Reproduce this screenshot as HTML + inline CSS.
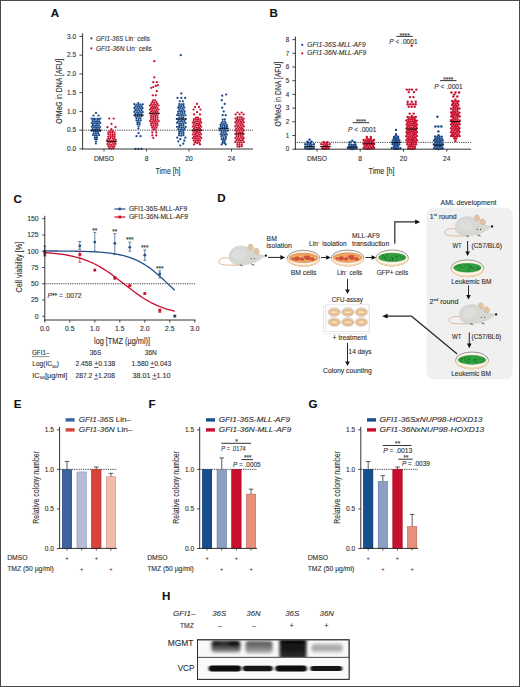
<!DOCTYPE html>
<html><head><meta charset="utf-8"><style>
html,body{margin:0;padding:0;background:#fff;}
body{width:520px;height:687px;overflow:hidden;}
svg{display:block;font-family:"Liberation Sans", sans-serif;}
</style></head><body>
<svg width="520" height="687" viewBox="0 0 520 687">
<rect x="0" y="0" width="520" height="687" fill="#fff"/>
<text x="50.80" y="17.30" font-size="11.6" font-weight="bold" fill="#111" stroke="#111" stroke-width="0.1" >A</text>
<line x1="82.60" y1="130.15" x2="253.00" y2="130.15" stroke="#1a1a1a" stroke-width="1.0" stroke-dasharray="0.8 1.0" />
<g fill="#18488a"><circle cx="95.9" cy="143.5" r="1.12"/><circle cx="96.0" cy="141.5" r="1.12"/><circle cx="95.0" cy="139.2" r="1.12"/><circle cx="97.0" cy="139.2" r="1.12"/><circle cx="94.9" cy="137.5" r="1.12"/><circle cx="96.9" cy="137.3" r="1.12"/><circle cx="93.0" cy="135.0" r="1.12"/><circle cx="94.9" cy="135.6" r="1.12"/><circle cx="96.9" cy="135.5" r="1.12"/><circle cx="99.1" cy="134.9" r="1.12"/><circle cx="93.8" cy="133.3" r="1.12"/><circle cx="95.9" cy="133.7" r="1.12"/><circle cx="98.1" cy="133.2" r="1.12"/><circle cx="91.7" cy="130.7" r="1.12"/><circle cx="93.8" cy="131.4" r="1.12"/><circle cx="96.0" cy="131.7" r="1.12"/><circle cx="98.1" cy="131.3" r="1.12"/><circle cx="100.1" cy="130.9" r="1.12"/><circle cx="92.8" cy="129.1" r="1.12"/><circle cx="95.0" cy="129.7" r="1.12"/><circle cx="97.1" cy="129.5" r="1.12"/><circle cx="99.3" cy="129.0" r="1.12"/><circle cx="91.9" cy="126.8" r="1.12"/><circle cx="93.9" cy="127.3" r="1.12"/><circle cx="96.1" cy="127.9" r="1.12"/><circle cx="98.1" cy="127.5" r="1.12"/><circle cx="100.1" cy="127.0" r="1.12"/><circle cx="92.9" cy="125.2" r="1.12"/><circle cx="95.1" cy="125.8" r="1.12"/><circle cx="97.0" cy="125.7" r="1.12"/><circle cx="99.0" cy="125.3" r="1.12"/><circle cx="91.9" cy="123.1" r="1.12"/><circle cx="93.8" cy="123.5" r="1.12"/><circle cx="96.1" cy="123.8" r="1.12"/><circle cx="98.1" cy="123.4" r="1.12"/><circle cx="100.1" cy="122.9" r="1.12"/><circle cx="92.7" cy="121.2" r="1.12"/><circle cx="94.9" cy="121.9" r="1.12"/><circle cx="96.9" cy="121.8" r="1.12"/><circle cx="99.2" cy="121.4" r="1.12"/><circle cx="93.0" cy="119.3" r="1.12"/><circle cx="94.9" cy="119.8" r="1.12"/><circle cx="97.2" cy="120.0" r="1.12"/><circle cx="99.0" cy="119.3" r="1.12"/><circle cx="91.6" cy="118.5" r="1.12"/><circle cx="94.5" cy="118.5" r="1.12"/><circle cx="97.5" cy="118.5" r="1.12"/><circle cx="100.4" cy="118.5" r="1.12"/><circle cx="93.5" cy="115.5" r="1.12"/><circle cx="98.5" cy="115.5" r="1.12"/><circle cx="96.0" cy="112.9" r="1.12"/></g>
<line x1="90.50" y1="130.15" x2="101.50" y2="130.15" stroke="#111" stroke-width="0.9" />
<g fill="#c8102e"><circle cx="109.3" cy="148.2" r="1.12"/><circle cx="111.5" cy="148.6" r="1.12"/><circle cx="113.5" cy="148.2" r="1.12"/><circle cx="108.4" cy="146.2" r="1.12"/><circle cx="110.5" cy="146.5" r="1.12"/><circle cx="112.6" cy="146.6" r="1.12"/><circle cx="114.5" cy="146.2" r="1.12"/><circle cx="107.4" cy="144.0" r="1.12"/><circle cx="109.4" cy="144.3" r="1.12"/><circle cx="111.4" cy="144.8" r="1.12"/><circle cx="113.5" cy="144.2" r="1.12"/><circle cx="115.6" cy="143.8" r="1.12"/><circle cx="108.2" cy="142.0" r="1.12"/><circle cx="110.3" cy="142.5" r="1.12"/><circle cx="112.5" cy="142.5" r="1.12"/><circle cx="114.8" cy="142.2" r="1.12"/><circle cx="107.2" cy="140.0" r="1.12"/><circle cx="109.4" cy="140.3" r="1.12"/><circle cx="111.6" cy="141.0" r="1.12"/><circle cx="113.6" cy="140.4" r="1.12"/><circle cx="115.6" cy="139.9" r="1.12"/><circle cx="108.3" cy="138.4" r="1.12"/><circle cx="110.3" cy="138.6" r="1.12"/><circle cx="112.7" cy="138.7" r="1.12"/><circle cx="114.5" cy="138.3" r="1.12"/><circle cx="108.4" cy="136.5" r="1.12"/><circle cx="110.6" cy="136.8" r="1.12"/><circle cx="112.5" cy="136.7" r="1.12"/><circle cx="114.6" cy="136.4" r="1.12"/><circle cx="108.4" cy="134.3" r="1.12"/><circle cx="110.4" cy="134.9" r="1.12"/><circle cx="112.7" cy="134.9" r="1.12"/><circle cx="114.7" cy="134.5" r="1.12"/><circle cx="108.3" cy="132.4" r="1.12"/><circle cx="110.4" cy="132.7" r="1.12"/><circle cx="112.4" cy="132.8" r="1.12"/><circle cx="114.6" cy="132.5" r="1.12"/><circle cx="110.4" cy="131.1" r="1.12"/><circle cx="112.7" cy="131.1" r="1.12"/><circle cx="111.4" cy="129.1" r="1.12"/><circle cx="107.5" cy="127.2" r="1.12"/><circle cx="115.5" cy="127.2" r="1.12"/><circle cx="111.5" cy="123.8" r="1.12"/><circle cx="109.3" cy="118.5" r="1.12"/><circle cx="113.7" cy="118.5" r="1.12"/></g>
<line x1="106.00" y1="141.40" x2="117.00" y2="141.40" stroke="#111" stroke-width="0.9" />
<g fill="#18488a"><circle cx="138.4" cy="128.5" r="1.12"/><circle cx="138.6" cy="126.5" r="1.12"/><circle cx="137.5" cy="124.2" r="1.12"/><circle cx="139.6" cy="124.4" r="1.12"/><circle cx="137.5" cy="122.4" r="1.12"/><circle cx="139.5" cy="122.5" r="1.12"/><circle cx="136.5" cy="120.3" r="1.12"/><circle cx="138.5" cy="120.6" r="1.12"/><circle cx="140.7" cy="120.3" r="1.12"/><circle cx="136.3" cy="118.1" r="1.12"/><circle cx="138.6" cy="118.8" r="1.12"/><circle cx="140.5" cy="118.3" r="1.12"/><circle cx="135.4" cy="116.0" r="1.12"/><circle cx="137.5" cy="116.4" r="1.12"/><circle cx="139.4" cy="116.7" r="1.12"/><circle cx="141.7" cy="116.1" r="1.12"/><circle cx="135.3" cy="114.2" r="1.12"/><circle cx="137.5" cy="114.5" r="1.12"/><circle cx="139.5" cy="114.5" r="1.12"/><circle cx="141.6" cy="114.2" r="1.12"/><circle cx="134.3" cy="111.8" r="1.12"/><circle cx="136.5" cy="112.4" r="1.12"/><circle cx="138.5" cy="112.9" r="1.12"/><circle cx="140.7" cy="112.4" r="1.12"/><circle cx="142.8" cy="112.0" r="1.12"/><circle cx="135.4" cy="110.1" r="1.12"/><circle cx="137.4" cy="110.6" r="1.12"/><circle cx="139.4" cy="110.8" r="1.12"/><circle cx="141.6" cy="110.2" r="1.12"/><circle cx="134.3" cy="108.0" r="1.12"/><circle cx="136.4" cy="108.5" r="1.12"/><circle cx="138.6" cy="108.8" r="1.12"/><circle cx="140.6" cy="108.4" r="1.12"/><circle cx="142.6" cy="108.1" r="1.12"/><circle cx="135.4" cy="106.4" r="1.12"/><circle cx="137.6" cy="106.8" r="1.12"/><circle cx="139.6" cy="106.8" r="1.12"/><circle cx="141.7" cy="106.4" r="1.12"/><circle cx="134.3" cy="104.1" r="1.12"/><circle cx="136.5" cy="104.7" r="1.12"/><circle cx="138.6" cy="105.2" r="1.12"/><circle cx="140.5" cy="104.6" r="1.12"/><circle cx="142.8" cy="104.3" r="1.12"/><circle cx="138.4" cy="103.1" r="1.12"/><circle cx="138.5" cy="133.2" r="1.12"/><circle cx="136.5" cy="136.2" r="1.12"/><circle cx="140.5" cy="136.2" r="1.12"/><circle cx="135.5" cy="148.9" r="1.12"/><circle cx="138.5" cy="148.9" r="1.12"/><circle cx="141.5" cy="148.9" r="1.12"/></g>
<line x1="133.00" y1="115.15" x2="144.00" y2="115.15" stroke="#111" stroke-width="0.9" />
<g fill="#c8102e"><circle cx="153.2" cy="129.6" r="1.12"/><circle cx="155.4" cy="129.8" r="1.12"/><circle cx="152.1" cy="127.6" r="1.12"/><circle cx="154.3" cy="127.9" r="1.12"/><circle cx="156.5" cy="127.7" r="1.12"/><circle cx="151.3" cy="125.3" r="1.12"/><circle cx="153.2" cy="126.0" r="1.12"/><circle cx="155.4" cy="125.7" r="1.12"/><circle cx="157.4" cy="125.4" r="1.12"/><circle cx="151.1" cy="123.4" r="1.12"/><circle cx="153.3" cy="123.7" r="1.12"/><circle cx="155.4" cy="123.9" r="1.12"/><circle cx="157.3" cy="123.4" r="1.12"/><circle cx="150.1" cy="121.1" r="1.12"/><circle cx="152.3" cy="121.8" r="1.12"/><circle cx="154.4" cy="122.0" r="1.12"/><circle cx="156.3" cy="121.6" r="1.12"/><circle cx="158.6" cy="121.2" r="1.12"/><circle cx="151.1" cy="119.6" r="1.12"/><circle cx="153.3" cy="119.9" r="1.12"/><circle cx="155.2" cy="120.1" r="1.12"/><circle cx="157.5" cy="119.6" r="1.12"/><circle cx="151.0" cy="117.6" r="1.12"/><circle cx="153.2" cy="117.9" r="1.12"/><circle cx="155.5" cy="118.1" r="1.12"/><circle cx="157.5" cy="117.5" r="1.12"/><circle cx="151.0" cy="115.7" r="1.12"/><circle cx="153.2" cy="116.0" r="1.12"/><circle cx="155.4" cy="116.2" r="1.12"/><circle cx="157.4" cy="115.5" r="1.12"/><circle cx="150.0" cy="113.3" r="1.12"/><circle cx="152.1" cy="113.8" r="1.12"/><circle cx="154.2" cy="114.3" r="1.12"/><circle cx="156.3" cy="114.0" r="1.12"/><circle cx="158.4" cy="113.5" r="1.12"/><circle cx="151.1" cy="111.6" r="1.12"/><circle cx="153.2" cy="112.0" r="1.12"/><circle cx="155.4" cy="112.2" r="1.12"/><circle cx="157.4" cy="111.7" r="1.12"/><circle cx="150.0" cy="109.6" r="1.12"/><circle cx="152.2" cy="110.0" r="1.12"/><circle cx="154.4" cy="110.4" r="1.12"/><circle cx="156.4" cy="110.1" r="1.12"/><circle cx="158.6" cy="109.5" r="1.12"/><circle cx="151.2" cy="107.9" r="1.12"/><circle cx="153.2" cy="108.2" r="1.12"/><circle cx="155.2" cy="108.2" r="1.12"/><circle cx="157.3" cy="107.9" r="1.12"/><circle cx="150.0" cy="105.5" r="1.12"/><circle cx="152.3" cy="106.2" r="1.12"/><circle cx="154.4" cy="106.5" r="1.12"/><circle cx="156.3" cy="106.0" r="1.12"/><circle cx="158.5" cy="105.5" r="1.12"/><circle cx="151.1" cy="104.1" r="1.12"/><circle cx="153.4" cy="104.4" r="1.12"/><circle cx="155.3" cy="104.5" r="1.12"/><circle cx="157.4" cy="103.9" r="1.12"/><circle cx="152.2" cy="102.2" r="1.12"/><circle cx="154.3" cy="102.6" r="1.12"/><circle cx="156.4" cy="102.1" r="1.12"/><circle cx="153.1" cy="100.4" r="1.12"/><circle cx="155.2" cy="100.3" r="1.12"/><circle cx="153.3" cy="138.0" r="1.12"/><circle cx="152.3" cy="135.4" r="1.12"/><circle cx="156.3" cy="135.4" r="1.12"/><circle cx="152.3" cy="132.4" r="1.12"/><circle cx="156.3" cy="132.4" r="1.12"/><circle cx="152.8" cy="95.3" r="1.12"/><circle cx="155.8" cy="95.3" r="1.12"/><circle cx="156.8" cy="91.2" r="1.12"/><circle cx="151.3" cy="87.8" r="1.12"/><circle cx="153.3" cy="87.0" r="1.12"/><circle cx="155.8" cy="85.9" r="1.12"/><circle cx="157.8" cy="85.2" r="1.12"/><circle cx="153.3" cy="82.2" r="1.12"/><circle cx="156.8" cy="82.2" r="1.12"/><circle cx="154.3" cy="77.3" r="1.12"/><circle cx="154.3" cy="61.2" r="1.12"/></g>
<line x1="148.80" y1="113.28" x2="159.80" y2="113.28" stroke="#111" stroke-width="0.9" />
<g fill="#18488a"><circle cx="179.1" cy="135.2" r="1.12"/><circle cx="181.3" cy="135.7" r="1.12"/><circle cx="183.4" cy="135.2" r="1.12"/><circle cx="179.2" cy="133.1" r="1.12"/><circle cx="181.4" cy="133.5" r="1.12"/><circle cx="183.5" cy="133.2" r="1.12"/><circle cx="179.3" cy="131.3" r="1.12"/><circle cx="181.3" cy="131.7" r="1.12"/><circle cx="183.5" cy="131.1" r="1.12"/><circle cx="178.2" cy="129.2" r="1.12"/><circle cx="180.3" cy="129.6" r="1.12"/><circle cx="182.4" cy="129.6" r="1.12"/><circle cx="184.5" cy="129.1" r="1.12"/><circle cx="177.0" cy="126.8" r="1.12"/><circle cx="179.2" cy="127.2" r="1.12"/><circle cx="181.4" cy="127.8" r="1.12"/><circle cx="183.4" cy="127.4" r="1.12"/><circle cx="185.6" cy="126.9" r="1.12"/><circle cx="179.3" cy="125.4" r="1.12"/><circle cx="181.3" cy="125.8" r="1.12"/><circle cx="183.4" cy="125.2" r="1.12"/><circle cx="177.0" cy="122.8" r="1.12"/><circle cx="179.1" cy="123.5" r="1.12"/><circle cx="181.2" cy="123.9" r="1.12"/><circle cx="183.5" cy="123.4" r="1.12"/><circle cx="185.5" cy="123.0" r="1.12"/><circle cx="178.2" cy="121.3" r="1.12"/><circle cx="180.3" cy="121.6" r="1.12"/><circle cx="182.2" cy="121.6" r="1.12"/><circle cx="184.5" cy="121.2" r="1.12"/><circle cx="177.0" cy="118.9" r="1.12"/><circle cx="179.1" cy="119.6" r="1.12"/><circle cx="181.4" cy="120.0" r="1.12"/><circle cx="183.3" cy="119.5" r="1.12"/><circle cx="185.5" cy="119.1" r="1.12"/><circle cx="179.3" cy="117.5" r="1.12"/><circle cx="181.4" cy="118.2" r="1.12"/><circle cx="183.3" cy="117.6" r="1.12"/><circle cx="177.2" cy="115.2" r="1.12"/><circle cx="179.1" cy="115.5" r="1.12"/><circle cx="181.4" cy="116.0" r="1.12"/><circle cx="183.4" cy="115.5" r="1.12"/><circle cx="185.5" cy="115.3" r="1.12"/><circle cx="178.2" cy="113.5" r="1.12"/><circle cx="180.4" cy="114.0" r="1.12"/><circle cx="182.3" cy="114.0" r="1.12"/><circle cx="184.4" cy="113.3" r="1.12"/><circle cx="178.1" cy="111.5" r="1.12"/><circle cx="180.2" cy="111.8" r="1.12"/><circle cx="182.3" cy="111.9" r="1.12"/><circle cx="184.6" cy="111.4" r="1.12"/><circle cx="179.3" cy="109.7" r="1.12"/><circle cx="181.4" cy="110.3" r="1.12"/><circle cx="183.5" cy="109.7" r="1.12"/><circle cx="178.1" cy="107.7" r="1.12"/><circle cx="180.3" cy="108.0" r="1.12"/><circle cx="182.3" cy="108.0" r="1.12"/><circle cx="184.3" cy="107.5" r="1.12"/><circle cx="179.1" cy="106.0" r="1.12"/><circle cx="181.2" cy="106.3" r="1.12"/><circle cx="183.4" cy="105.8" r="1.12"/><circle cx="179.3" cy="104.0" r="1.12"/><circle cx="181.4" cy="104.4" r="1.12"/><circle cx="183.5" cy="104.1" r="1.12"/><circle cx="180.3" cy="145.5" r="1.12"/><circle cx="183.3" cy="143.7" r="1.12"/><circle cx="178.3" cy="141.4" r="1.12"/><circle cx="184.3" cy="140.7" r="1.12"/><circle cx="180.3" cy="139.2" r="1.12"/><circle cx="177.3" cy="137.7" r="1.12"/><circle cx="185.3" cy="137.7" r="1.12"/><circle cx="179.8" cy="101.3" r="1.12"/><circle cx="182.8" cy="101.3" r="1.12"/><circle cx="177.5" cy="97.9" r="1.12"/><circle cx="181.3" cy="97.9" r="1.12"/><circle cx="185.1" cy="97.9" r="1.12"/><circle cx="181.3" cy="93.4" r="1.12"/><circle cx="180.8" cy="55.2" r="1.12"/></g>
<line x1="175.80" y1="118.90" x2="186.80" y2="118.90" stroke="#111" stroke-width="0.9" />
<g fill="#c8102e"><circle cx="195.0" cy="142.5" r="1.12"/><circle cx="197.1" cy="143.1" r="1.12"/><circle cx="199.2" cy="142.7" r="1.12"/><circle cx="193.7" cy="140.6" r="1.12"/><circle cx="195.8" cy="140.9" r="1.12"/><circle cx="198.0" cy="140.8" r="1.12"/><circle cx="200.2" cy="140.6" r="1.12"/><circle cx="192.8" cy="138.2" r="1.12"/><circle cx="194.9" cy="138.7" r="1.12"/><circle cx="196.9" cy="139.1" r="1.12"/><circle cx="199.0" cy="138.8" r="1.12"/><circle cx="201.2" cy="138.2" r="1.12"/><circle cx="194.0" cy="136.5" r="1.12"/><circle cx="195.8" cy="136.9" r="1.12"/><circle cx="197.9" cy="137.0" r="1.12"/><circle cx="200.0" cy="136.5" r="1.12"/><circle cx="192.8" cy="134.5" r="1.12"/><circle cx="195.0" cy="134.8" r="1.12"/><circle cx="197.0" cy="135.3" r="1.12"/><circle cx="199.1" cy="134.8" r="1.12"/><circle cx="201.1" cy="134.3" r="1.12"/><circle cx="193.7" cy="132.7" r="1.12"/><circle cx="196.0" cy="133.2" r="1.12"/><circle cx="198.0" cy="133.0" r="1.12"/><circle cx="200.1" cy="132.6" r="1.12"/><circle cx="192.9" cy="130.6" r="1.12"/><circle cx="195.0" cy="130.8" r="1.12"/><circle cx="196.9" cy="131.4" r="1.12"/><circle cx="199.2" cy="130.9" r="1.12"/><circle cx="201.2" cy="130.3" r="1.12"/><circle cx="194.0" cy="128.8" r="1.12"/><circle cx="196.1" cy="129.3" r="1.12"/><circle cx="198.0" cy="129.1" r="1.12"/><circle cx="200.0" cy="128.8" r="1.12"/><circle cx="192.9" cy="126.6" r="1.12"/><circle cx="194.9" cy="127.1" r="1.12"/><circle cx="197.0" cy="127.5" r="1.12"/><circle cx="199.0" cy="127.1" r="1.12"/><circle cx="201.1" cy="126.7" r="1.12"/><circle cx="193.8" cy="124.7" r="1.12"/><circle cx="195.9" cy="125.3" r="1.12"/><circle cx="198.1" cy="125.2" r="1.12"/><circle cx="200.0" cy="124.9" r="1.12"/><circle cx="192.8" cy="122.6" r="1.12"/><circle cx="194.9" cy="123.0" r="1.12"/><circle cx="196.9" cy="123.6" r="1.12"/><circle cx="199.2" cy="123.2" r="1.12"/><circle cx="201.3" cy="122.7" r="1.12"/><circle cx="193.8" cy="121.1" r="1.12"/><circle cx="196.0" cy="121.3" r="1.12"/><circle cx="197.9" cy="121.4" r="1.12"/><circle cx="200.2" cy="120.9" r="1.12"/><circle cx="193.9" cy="119.1" r="1.12"/><circle cx="195.9" cy="119.3" r="1.12"/><circle cx="198.0" cy="119.4" r="1.12"/><circle cx="200.2" cy="118.9" r="1.12"/><circle cx="196.0" cy="117.5" r="1.12"/><circle cx="198.0" cy="117.6" r="1.12"/><circle cx="194.0" cy="144.4" r="1.12"/><circle cx="200.0" cy="144.4" r="1.12"/><circle cx="194.0" cy="114.4" r="1.12"/><circle cx="200.0" cy="114.4" r="1.12"/><circle cx="197.0" cy="112.2" r="1.12"/><circle cx="193.5" cy="109.5" r="1.12"/><circle cx="200.5" cy="109.5" r="1.12"/><circle cx="195.0" cy="106.9" r="1.12"/><circle cx="199.0" cy="106.9" r="1.12"/><circle cx="197.0" cy="103.9" r="1.12"/></g>
<line x1="191.50" y1="130.15" x2="202.50" y2="130.15" stroke="#111" stroke-width="0.9" />
<g fill="#18488a"><circle cx="222.7" cy="142.8" r="1.12"/><circle cx="224.7" cy="142.9" r="1.12"/><circle cx="222.8" cy="140.9" r="1.12"/><circle cx="224.7" cy="140.8" r="1.12"/><circle cx="221.6" cy="138.9" r="1.12"/><circle cx="223.6" cy="139.1" r="1.12"/><circle cx="225.7" cy="138.9" r="1.12"/><circle cx="221.5" cy="136.6" r="1.12"/><circle cx="223.7" cy="137.3" r="1.12"/><circle cx="225.9" cy="136.8" r="1.12"/><circle cx="220.7" cy="134.5" r="1.12"/><circle cx="222.6" cy="135.2" r="1.12"/><circle cx="224.8" cy="134.9" r="1.12"/><circle cx="226.9" cy="134.6" r="1.12"/><circle cx="221.5" cy="132.8" r="1.12"/><circle cx="223.6" cy="133.3" r="1.12"/><circle cx="225.8" cy="133.0" r="1.12"/><circle cx="219.6" cy="130.4" r="1.12"/><circle cx="221.6" cy="131.0" r="1.12"/><circle cx="223.8" cy="131.4" r="1.12"/><circle cx="225.7" cy="130.9" r="1.12"/><circle cx="227.9" cy="130.6" r="1.12"/><circle cx="220.5" cy="128.9" r="1.12"/><circle cx="222.5" cy="129.2" r="1.12"/><circle cx="224.8" cy="129.3" r="1.12"/><circle cx="226.7" cy="128.6" r="1.12"/><circle cx="220.7" cy="126.7" r="1.12"/><circle cx="222.7" cy="127.4" r="1.12"/><circle cx="224.7" cy="127.2" r="1.12"/><circle cx="227.0" cy="126.8" r="1.12"/><circle cx="220.6" cy="124.8" r="1.12"/><circle cx="222.6" cy="125.2" r="1.12"/><circle cx="224.8" cy="125.4" r="1.12"/><circle cx="226.9" cy="125.0" r="1.12"/><circle cx="221.5" cy="123.1" r="1.12"/><circle cx="223.8" cy="123.7" r="1.12"/><circle cx="225.8" cy="123.1" r="1.12"/><circle cx="222.6" cy="121.5" r="1.12"/><circle cx="224.7" cy="121.5" r="1.12"/><circle cx="222.7" cy="119.5" r="1.12"/><circle cx="224.8" cy="119.4" r="1.12"/><circle cx="221.7" cy="144.4" r="1.12"/><circle cx="225.7" cy="144.4" r="1.12"/><circle cx="222.7" cy="115.2" r="1.12"/><circle cx="225.7" cy="115.2" r="1.12"/><circle cx="223.7" cy="111.4" r="1.12"/><circle cx="222.2" cy="107.7" r="1.12"/><circle cx="224.7" cy="103.9" r="1.12"/><circle cx="221.7" cy="100.2" r="1.12"/><circle cx="222.2" cy="95.7" r="1.12"/><circle cx="226.2" cy="94.5" r="1.12"/></g>
<line x1="218.20" y1="128.28" x2="229.20" y2="128.28" stroke="#111" stroke-width="0.9" />
<g fill="#c8102e"><circle cx="237.5" cy="146.5" r="1.12"/><circle cx="239.5" cy="146.7" r="1.12"/><circle cx="241.8" cy="146.3" r="1.12"/><circle cx="237.4" cy="144.4" r="1.12"/><circle cx="239.5" cy="145.0" r="1.12"/><circle cx="241.8" cy="144.6" r="1.12"/><circle cx="235.3" cy="141.9" r="1.12"/><circle cx="237.5" cy="142.5" r="1.12"/><circle cx="239.6" cy="142.8" r="1.12"/><circle cx="241.7" cy="142.5" r="1.12"/><circle cx="243.9" cy="142.1" r="1.12"/><circle cx="236.5" cy="140.2" r="1.12"/><circle cx="238.7" cy="140.7" r="1.12"/><circle cx="240.7" cy="140.7" r="1.12"/><circle cx="242.8" cy="140.2" r="1.12"/><circle cx="235.3" cy="138.0" r="1.12"/><circle cx="237.6" cy="138.6" r="1.12"/><circle cx="239.5" cy="139.0" r="1.12"/><circle cx="241.8" cy="138.6" r="1.12"/><circle cx="243.7" cy="138.2" r="1.12"/><circle cx="236.6" cy="136.3" r="1.12"/><circle cx="238.5" cy="136.9" r="1.12"/><circle cx="240.8" cy="137.0" r="1.12"/><circle cx="242.6" cy="136.3" r="1.12"/><circle cx="236.4" cy="134.6" r="1.12"/><circle cx="238.6" cy="135.0" r="1.12"/><circle cx="240.6" cy="135.0" r="1.12"/><circle cx="242.7" cy="134.4" r="1.12"/><circle cx="236.6" cy="132.4" r="1.12"/><circle cx="238.6" cy="133.0" r="1.12"/><circle cx="240.6" cy="132.9" r="1.12"/><circle cx="242.6" cy="132.4" r="1.12"/><circle cx="235.4" cy="130.4" r="1.12"/><circle cx="237.4" cy="130.6" r="1.12"/><circle cx="239.5" cy="131.3" r="1.12"/><circle cx="241.6" cy="130.7" r="1.12"/><circle cx="243.7" cy="130.4" r="1.12"/><circle cx="236.3" cy="128.5" r="1.12"/><circle cx="238.5" cy="129.1" r="1.12"/><circle cx="240.7" cy="128.9" r="1.12"/><circle cx="242.6" cy="128.7" r="1.12"/><circle cx="235.3" cy="126.4" r="1.12"/><circle cx="237.6" cy="126.8" r="1.12"/><circle cx="239.6" cy="127.3" r="1.12"/><circle cx="241.7" cy="127.0" r="1.12"/><circle cx="243.9" cy="126.4" r="1.12"/><circle cx="236.5" cy="124.6" r="1.12"/><circle cx="238.4" cy="125.3" r="1.12"/><circle cx="240.6" cy="125.2" r="1.12"/><circle cx="242.7" cy="124.8" r="1.12"/><circle cx="235.3" cy="122.4" r="1.12"/><circle cx="237.5" cy="123.0" r="1.12"/><circle cx="239.7" cy="123.3" r="1.12"/><circle cx="241.7" cy="122.9" r="1.12"/><circle cx="243.8" cy="122.4" r="1.12"/><circle cx="236.5" cy="120.9" r="1.12"/><circle cx="238.4" cy="121.2" r="1.12"/><circle cx="240.7" cy="121.4" r="1.12"/><circle cx="242.7" cy="120.7" r="1.12"/><circle cx="235.5" cy="118.6" r="1.12"/><circle cx="237.4" cy="119.2" r="1.12"/><circle cx="239.6" cy="119.6" r="1.12"/><circle cx="241.7" cy="119.2" r="1.12"/><circle cx="243.7" cy="118.7" r="1.12"/><circle cx="237.5" cy="117.2" r="1.12"/><circle cx="239.7" cy="117.5" r="1.12"/><circle cx="241.6" cy="117.1" r="1.12"/><circle cx="235.6" cy="114.4" r="1.12"/><circle cx="239.6" cy="114.4" r="1.12"/><circle cx="243.6" cy="114.4" r="1.12"/><circle cx="237.6" cy="112.5" r="1.12"/><circle cx="241.6" cy="112.5" r="1.12"/></g>
<line x1="234.10" y1="133.90" x2="245.10" y2="133.90" stroke="#111" stroke-width="0.9" />
<line x1="82.60" y1="33.40" x2="82.60" y2="149.40" stroke="#1e1e1e" stroke-width="0.9" />
<line x1="82.15" y1="149.00" x2="253.00" y2="149.00" stroke="#1e1e1e" stroke-width="0.9" />
<line x1="79.40" y1="148.90" x2="82.60" y2="148.90" stroke="#1e1e1e" stroke-width="0.8" />
<text x="76.10" y="151.10" font-size="6.7" text-anchor="end" fill="#2e2e2e" stroke="#2e2e2e" stroke-width="0.1" textLength="9.10" lengthAdjust="spacingAndGlyphs" >0.0</text>
<line x1="79.40" y1="130.15" x2="82.60" y2="130.15" stroke="#1e1e1e" stroke-width="0.8" />
<text x="76.10" y="132.35" font-size="6.7" text-anchor="end" fill="#2e2e2e" stroke="#2e2e2e" stroke-width="0.1" textLength="9.10" lengthAdjust="spacingAndGlyphs" >0.5</text>
<line x1="79.40" y1="111.40" x2="82.60" y2="111.40" stroke="#1e1e1e" stroke-width="0.8" />
<text x="76.10" y="113.60" font-size="6.7" text-anchor="end" fill="#2e2e2e" stroke="#2e2e2e" stroke-width="0.1" textLength="9.10" lengthAdjust="spacingAndGlyphs" >1.0</text>
<line x1="79.40" y1="92.65" x2="82.60" y2="92.65" stroke="#1e1e1e" stroke-width="0.8" />
<text x="76.10" y="94.85" font-size="6.7" text-anchor="end" fill="#2e2e2e" stroke="#2e2e2e" stroke-width="0.1" textLength="9.10" lengthAdjust="spacingAndGlyphs" >1.5</text>
<line x1="79.40" y1="73.90" x2="82.60" y2="73.90" stroke="#1e1e1e" stroke-width="0.8" />
<text x="76.10" y="76.10" font-size="6.7" text-anchor="end" fill="#2e2e2e" stroke="#2e2e2e" stroke-width="0.1" textLength="9.10" lengthAdjust="spacingAndGlyphs" >2.0</text>
<line x1="79.40" y1="55.15" x2="82.60" y2="55.15" stroke="#1e1e1e" stroke-width="0.8" />
<text x="76.10" y="57.35" font-size="6.7" text-anchor="end" fill="#2e2e2e" stroke="#2e2e2e" stroke-width="0.1" textLength="9.10" lengthAdjust="spacingAndGlyphs" >2.5</text>
<line x1="79.40" y1="36.40" x2="82.60" y2="36.40" stroke="#1e1e1e" stroke-width="0.8" />
<text x="76.10" y="38.60" font-size="6.7" text-anchor="end" fill="#2e2e2e" stroke="#2e2e2e" stroke-width="0.1" textLength="9.10" lengthAdjust="spacingAndGlyphs" >3.0</text>
<line x1="104.00" y1="149.00" x2="104.00" y2="151.50" stroke="#1e1e1e" stroke-width="0.8" />
<text x="104.00" y="161.40" font-size="6.7" text-anchor="middle" fill="#2e2e2e" stroke="#2e2e2e" stroke-width="0.1" >DMSO</text>
<line x1="146.50" y1="149.00" x2="146.50" y2="151.50" stroke="#1e1e1e" stroke-width="0.8" />
<text x="146.50" y="161.40" font-size="6.7" text-anchor="middle" fill="#2e2e2e" stroke="#2e2e2e" stroke-width="0.1" >8</text>
<line x1="189.00" y1="149.00" x2="189.00" y2="151.50" stroke="#1e1e1e" stroke-width="0.8" />
<text x="189.00" y="161.40" font-size="6.7" text-anchor="middle" fill="#2e2e2e" stroke="#2e2e2e" stroke-width="0.1" >20</text>
<line x1="231.50" y1="149.00" x2="231.50" y2="151.50" stroke="#1e1e1e" stroke-width="0.8" />
<text x="231.50" y="161.40" font-size="6.7" text-anchor="middle" fill="#2e2e2e" stroke="#2e2e2e" stroke-width="0.1" >24</text>
<text x="168.00" y="174.20" font-size="8.4" text-anchor="middle" fill="#2e2e2e" stroke="#2e2e2e" stroke-width="0.1" textLength="25.00" lengthAdjust="spacingAndGlyphs" >Time [h]</text>
<g transform="translate(62.40,91.30) rotate(-90)"><text x="-32.50" y="0.00" font-size="8.40" fill="#2e2e2e" stroke="#2e2e2e" stroke-width="0.1" textLength="5.31" lengthAdjust="spacingAndGlyphs">O</text><text x="-27.19" y="-2.69" font-size="5.21" fill="#2e2e2e" stroke="#2e2e2e" stroke-width="0.1" textLength="2.36" lengthAdjust="spacingAndGlyphs">6</text><text x="-24.83" y="0.00" font-size="8.40" fill="#2e2e2e" stroke="#2e2e2e" stroke-width="0.1" textLength="57.33" lengthAdjust="spacingAndGlyphs">MeG in DNA [AFU]</text></g>
<circle cx="91.40" cy="38.40" r="1.05" fill="#18488a"/>
<circle cx="91.40" cy="48.40" r="1.05" fill="#c8102e"/>
<text x="96.00" y="40.90" font-size="6.5" fill="#2e2e2e" stroke="#2e2e2e" stroke-width="0.1" textLength="53.80" lengthAdjust="spacingAndGlyphs" ><tspan font-style="italic">GFI1-36S</tspan> Lin<tspan dy="-2.2" font-size="4">−</tspan><tspan dy="2.2"> cells</tspan></text>
<text x="96.00" y="50.90" font-size="6.5" fill="#2e2e2e" stroke="#2e2e2e" stroke-width="0.1" textLength="55.80" lengthAdjust="spacingAndGlyphs" ><tspan font-style="italic">GFI1-36N</tspan> Lin<tspan dy="-2.2" font-size="4">−</tspan><tspan dy="2.2"> cells</tspan></text>
<text x="269.40" y="17.30" font-size="11.6" font-weight="bold" fill="#111" stroke="#111" stroke-width="0.1" >B</text>
<line x1="295.40" y1="142.35" x2="471.00" y2="142.35" stroke="#1a1a1a" stroke-width="1.0" stroke-dasharray="0.8 1.0" />
<g fill="#18488a"><circle cx="305.3" cy="148.0" r="1.2"/><circle cx="307.3" cy="148.6" r="1.2"/><circle cx="309.6" cy="148.9" r="1.2"/><circle cx="311.6" cy="148.6" r="1.2"/><circle cx="313.6" cy="148.2" r="1.2"/><circle cx="307.4" cy="146.6" r="1.2"/><circle cx="309.5" cy="147.0" r="1.2"/><circle cx="311.6" cy="146.6" r="1.2"/><circle cx="305.3" cy="144.2" r="1.2"/><circle cx="307.4" cy="144.5" r="1.2"/><circle cx="309.5" cy="145.1" r="1.2"/><circle cx="311.5" cy="144.7" r="1.2"/><circle cx="313.8" cy="144.2" r="1.2"/><circle cx="308.4" cy="142.8" r="1.2"/><circle cx="310.4" cy="142.9" r="1.2"/><circle cx="307.5" cy="141.7" r="1.2"/><circle cx="311.5" cy="141.7" r="1.2"/><circle cx="309.5" cy="139.6" r="1.2"/></g>
<line x1="304.00" y1="146.46" x2="315.00" y2="146.46" stroke="#111" stroke-width="0.9" />
<g fill="#c8102e"><circle cx="322.2" cy="148.3" r="1.2"/><circle cx="324.2" cy="148.8" r="1.2"/><circle cx="326.3" cy="148.8" r="1.2"/><circle cx="328.6" cy="148.3" r="1.2"/><circle cx="323.3" cy="146.6" r="1.2"/><circle cx="325.5" cy="146.9" r="1.2"/><circle cx="327.6" cy="146.7" r="1.2"/><circle cx="321.3" cy="144.1" r="1.2"/><circle cx="323.4" cy="144.6" r="1.2"/><circle cx="325.5" cy="145.2" r="1.2"/><circle cx="327.4" cy="144.7" r="1.2"/><circle cx="329.7" cy="144.1" r="1.2"/><circle cx="324.4" cy="142.8" r="1.2"/><circle cx="326.6" cy="142.9" r="1.2"/><circle cx="323.4" cy="142.1" r="1.2"/><circle cx="327.4" cy="142.1" r="1.2"/></g>
<line x1="319.90" y1="146.46" x2="330.90" y2="146.46" stroke="#111" stroke-width="0.9" />
<g fill="#18488a"><circle cx="348.0" cy="148.1" r="1.2"/><circle cx="350.3" cy="148.5" r="1.2"/><circle cx="352.2" cy="149.0" r="1.2"/><circle cx="354.3" cy="148.4" r="1.2"/><circle cx="356.4" cy="148.0" r="1.2"/><circle cx="349.2" cy="146.5" r="1.2"/><circle cx="351.2" cy="146.9" r="1.2"/><circle cx="353.2" cy="146.8" r="1.2"/><circle cx="355.5" cy="146.3" r="1.2"/><circle cx="349.2" cy="144.4" r="1.2"/><circle cx="351.4" cy="144.8" r="1.2"/><circle cx="353.5" cy="144.9" r="1.2"/><circle cx="355.4" cy="144.5" r="1.2"/><circle cx="349.8" cy="142.3" r="1.2"/><circle cx="354.8" cy="142.3" r="1.2"/><circle cx="352.3" cy="140.7" r="1.2"/></g>
<line x1="346.80" y1="147.14" x2="357.80" y2="147.14" stroke="#111" stroke-width="0.9" />
<g fill="#c8102e"><circle cx="363.7" cy="147.9" r="1.2"/><circle cx="365.6" cy="148.4" r="1.2"/><circle cx="367.7" cy="148.7" r="1.2"/><circle cx="369.9" cy="148.6" r="1.2"/><circle cx="372.0" cy="148.3" r="1.2"/><circle cx="374.1" cy="148.0" r="1.2"/><circle cx="364.6" cy="146.1" r="1.2"/><circle cx="366.6" cy="146.5" r="1.2"/><circle cx="368.7" cy="147.1" r="1.2"/><circle cx="370.9" cy="146.6" r="1.2"/><circle cx="373.1" cy="146.0" r="1.2"/><circle cx="363.6" cy="143.8" r="1.2"/><circle cx="365.5" cy="144.4" r="1.2"/><circle cx="367.6" cy="144.8" r="1.2"/><circle cx="369.8" cy="144.9" r="1.2"/><circle cx="372.0" cy="144.3" r="1.2"/><circle cx="374.1" cy="144.0" r="1.2"/><circle cx="364.7" cy="142.2" r="1.2"/><circle cx="366.6" cy="142.6" r="1.2"/><circle cx="368.8" cy="143.3" r="1.2"/><circle cx="371.0" cy="142.7" r="1.2"/><circle cx="372.9" cy="142.1" r="1.2"/><circle cx="363.6" cy="140.0" r="1.2"/><circle cx="365.7" cy="140.5" r="1.2"/><circle cx="367.9" cy="141.0" r="1.2"/><circle cx="369.8" cy="141.1" r="1.2"/><circle cx="371.8" cy="140.5" r="1.2"/><circle cx="374.0" cy="140.0" r="1.2"/><circle cx="366.8" cy="138.7" r="1.2"/><circle cx="368.8" cy="139.4" r="1.2"/><circle cx="370.8" cy="138.7" r="1.2"/><circle cx="366.8" cy="136.9" r="1.2"/><circle cx="370.8" cy="136.9" r="1.2"/></g>
<line x1="363.30" y1="143.72" x2="374.30" y2="143.72" stroke="#111" stroke-width="0.9" />
<g fill="#18488a"><circle cx="391.8" cy="148.1" r="1.2"/><circle cx="394.0" cy="148.5" r="1.2"/><circle cx="395.9" cy="148.9" r="1.2"/><circle cx="398.0" cy="148.7" r="1.2"/><circle cx="400.3" cy="148.2" r="1.2"/><circle cx="394.0" cy="146.7" r="1.2"/><circle cx="396.0" cy="147.1" r="1.2"/><circle cx="398.1" cy="146.5" r="1.2"/><circle cx="392.8" cy="144.3" r="1.2"/><circle cx="394.9" cy="144.9" r="1.2"/><circle cx="397.1" cy="145.0" r="1.2"/><circle cx="399.2" cy="144.4" r="1.2"/><circle cx="392.8" cy="142.6" r="1.2"/><circle cx="395.0" cy="142.9" r="1.2"/><circle cx="397.1" cy="143.1" r="1.2"/><circle cx="399.1" cy="142.6" r="1.2"/><circle cx="392.8" cy="140.4" r="1.2"/><circle cx="395.0" cy="141.1" r="1.2"/><circle cx="397.1" cy="140.9" r="1.2"/><circle cx="399.3" cy="140.5" r="1.2"/><circle cx="394.0" cy="138.8" r="1.2"/><circle cx="396.1" cy="139.3" r="1.2"/><circle cx="398.2" cy="138.8" r="1.2"/><circle cx="394.0" cy="137.0" r="1.2"/><circle cx="396.0" cy="137.4" r="1.2"/><circle cx="398.1" cy="136.8" r="1.2"/><circle cx="396.0" cy="135.2" r="1.2"/><circle cx="396.0" cy="134.1" r="1.2"/><circle cx="396.0" cy="130.0" r="1.2"/></g>
<line x1="390.50" y1="142.35" x2="401.50" y2="142.35" stroke="#111" stroke-width="0.9" />
<g fill="#c8102e"><circle cx="408.4" cy="148.2" r="1.2"/><circle cx="410.5" cy="148.9" r="1.2"/><circle cx="412.7" cy="148.7" r="1.2"/><circle cx="414.7" cy="148.2" r="1.2"/><circle cx="408.6" cy="146.4" r="1.2"/><circle cx="410.7" cy="146.7" r="1.2"/><circle cx="412.8" cy="146.8" r="1.2"/><circle cx="414.9" cy="146.5" r="1.2"/><circle cx="407.4" cy="144.3" r="1.2"/><circle cx="409.7" cy="144.8" r="1.2"/><circle cx="411.6" cy="145.0" r="1.2"/><circle cx="413.7" cy="144.5" r="1.2"/><circle cx="416.0" cy="144.3" r="1.2"/><circle cx="407.6" cy="142.3" r="1.2"/><circle cx="409.5" cy="142.6" r="1.2"/><circle cx="411.6" cy="143.2" r="1.2"/><circle cx="413.7" cy="142.6" r="1.2"/><circle cx="415.9" cy="142.1" r="1.2"/><circle cx="406.4" cy="140.1" r="1.2"/><circle cx="408.5" cy="140.5" r="1.2"/><circle cx="410.8" cy="141.0" r="1.2"/><circle cx="412.9" cy="141.0" r="1.2"/><circle cx="414.7" cy="140.5" r="1.2"/><circle cx="416.9" cy="140.2" r="1.2"/><circle cx="407.6" cy="138.4" r="1.2"/><circle cx="409.5" cy="138.9" r="1.2"/><circle cx="411.6" cy="139.3" r="1.2"/><circle cx="413.7" cy="138.7" r="1.2"/><circle cx="415.8" cy="138.4" r="1.2"/><circle cx="406.3" cy="136.2" r="1.2"/><circle cx="408.5" cy="136.7" r="1.2"/><circle cx="410.6" cy="137.1" r="1.2"/><circle cx="412.7" cy="137.2" r="1.2"/><circle cx="414.8" cy="136.8" r="1.2"/><circle cx="416.9" cy="136.1" r="1.2"/><circle cx="407.5" cy="134.3" r="1.2"/><circle cx="409.6" cy="134.8" r="1.2"/><circle cx="411.8" cy="135.4" r="1.2"/><circle cx="413.9" cy="134.9" r="1.2"/><circle cx="415.9" cy="134.4" r="1.2"/><circle cx="406.6" cy="132.2" r="1.2"/><circle cx="408.7" cy="132.6" r="1.2"/><circle cx="410.6" cy="133.1" r="1.2"/><circle cx="412.9" cy="133.2" r="1.2"/><circle cx="414.8" cy="132.8" r="1.2"/><circle cx="416.9" cy="132.3" r="1.2"/><circle cx="407.6" cy="130.6" r="1.2"/><circle cx="409.6" cy="131.0" r="1.2"/><circle cx="411.6" cy="131.3" r="1.2"/><circle cx="413.9" cy="131.0" r="1.2"/><circle cx="416.0" cy="130.5" r="1.2"/><circle cx="406.5" cy="128.4" r="1.2"/><circle cx="408.4" cy="128.8" r="1.2"/><circle cx="410.8" cy="129.2" r="1.2"/><circle cx="412.7" cy="129.2" r="1.2"/><circle cx="414.9" cy="128.9" r="1.2"/><circle cx="416.8" cy="128.3" r="1.2"/><circle cx="407.4" cy="126.7" r="1.2"/><circle cx="409.5" cy="127.0" r="1.2"/><circle cx="411.6" cy="127.7" r="1.2"/><circle cx="413.9" cy="127.0" r="1.2"/><circle cx="416.0" cy="126.5" r="1.2"/><circle cx="406.6" cy="124.6" r="1.2"/><circle cx="408.6" cy="124.9" r="1.2"/><circle cx="410.6" cy="125.4" r="1.2"/><circle cx="412.6" cy="125.3" r="1.2"/><circle cx="414.8" cy="124.8" r="1.2"/><circle cx="416.9" cy="124.6" r="1.2"/><circle cx="407.5" cy="122.8" r="1.2"/><circle cx="409.6" cy="123.1" r="1.2"/><circle cx="411.7" cy="123.6" r="1.2"/><circle cx="413.9" cy="123.3" r="1.2"/><circle cx="415.9" cy="122.8" r="1.2"/><circle cx="406.4" cy="120.5" r="1.2"/><circle cx="408.6" cy="121.1" r="1.2"/><circle cx="410.7" cy="121.5" r="1.2"/><circle cx="412.9" cy="121.5" r="1.2"/><circle cx="414.9" cy="121.0" r="1.2"/><circle cx="416.9" cy="120.6" r="1.2"/><circle cx="408.5" cy="119.2" r="1.2"/><circle cx="410.7" cy="119.6" r="1.2"/><circle cx="412.7" cy="119.5" r="1.2"/><circle cx="414.8" cy="119.1" r="1.2"/><circle cx="407.6" cy="117.0" r="1.2"/><circle cx="409.5" cy="117.4" r="1.2"/><circle cx="411.8" cy="117.8" r="1.2"/><circle cx="413.8" cy="117.5" r="1.2"/><circle cx="415.8" cy="116.9" r="1.2"/><circle cx="411.8" cy="116.0" r="1.2"/><circle cx="409.7" cy="113.6" r="1.2"/><circle cx="413.7" cy="113.6" r="1.2"/><circle cx="408.7" cy="106.7" r="1.2"/><circle cx="411.7" cy="106.7" r="1.2"/><circle cx="414.7" cy="106.7" r="1.2"/><circle cx="407.7" cy="104.3" r="1.2"/><circle cx="410.4" cy="104.3" r="1.2"/><circle cx="413.0" cy="104.3" r="1.2"/><circle cx="415.7" cy="104.3" r="1.2"/><circle cx="407.7" cy="101.7" r="1.2"/><circle cx="411.7" cy="101.7" r="1.2"/><circle cx="415.7" cy="101.7" r="1.2"/><circle cx="410.0" cy="97.1" r="1.2"/><circle cx="413.4" cy="97.1" r="1.2"/><circle cx="408.7" cy="92.1" r="1.2"/><circle cx="414.0" cy="92.1" r="1.2"/><circle cx="406.8" cy="89.6" r="1.2"/><circle cx="409.4" cy="89.6" r="1.2"/><circle cx="412.0" cy="89.6" r="1.2"/><circle cx="416.3" cy="89.6" r="1.2"/><circle cx="411.7" cy="45.6" r="1.2"/></g>
<line x1="406.20" y1="129.06" x2="417.20" y2="129.06" stroke="#111" stroke-width="0.9" />
<g fill="#18488a"><circle cx="434.1" cy="148.1" r="1.2"/><circle cx="436.3" cy="148.6" r="1.2"/><circle cx="438.4" cy="149.0" r="1.2"/><circle cx="440.6" cy="148.6" r="1.2"/><circle cx="442.6" cy="148.2" r="1.2"/><circle cx="435.3" cy="146.3" r="1.2"/><circle cx="437.4" cy="146.7" r="1.2"/><circle cx="439.6" cy="146.8" r="1.2"/><circle cx="441.4" cy="146.3" r="1.2"/><circle cx="434.1" cy="144.2" r="1.2"/><circle cx="436.3" cy="144.7" r="1.2"/><circle cx="438.4" cy="145.0" r="1.2"/><circle cx="440.4" cy="144.7" r="1.2"/><circle cx="442.7" cy="144.2" r="1.2"/><circle cx="435.3" cy="142.4" r="1.2"/><circle cx="437.3" cy="142.8" r="1.2"/><circle cx="439.5" cy="143.0" r="1.2"/><circle cx="441.6" cy="142.5" r="1.2"/><circle cx="434.1" cy="140.4" r="1.2"/><circle cx="436.3" cy="140.8" r="1.2"/><circle cx="438.5" cy="141.3" r="1.2"/><circle cx="440.5" cy="140.7" r="1.2"/><circle cx="442.6" cy="140.2" r="1.2"/><circle cx="435.2" cy="138.7" r="1.2"/><circle cx="437.3" cy="139.0" r="1.2"/><circle cx="439.4" cy="139.0" r="1.2"/><circle cx="441.5" cy="138.4" r="1.2"/><circle cx="435.2" cy="136.5" r="1.2"/><circle cx="437.3" cy="137.1" r="1.2"/><circle cx="439.4" cy="137.1" r="1.2"/><circle cx="441.6" cy="136.6" r="1.2"/><circle cx="438.5" cy="135.2" r="1.2"/><circle cx="438.4" cy="131.4" r="1.2"/><circle cx="435.4" cy="126.5" r="1.2"/><circle cx="438.4" cy="126.5" r="1.2"/><circle cx="441.4" cy="126.5" r="1.2"/><circle cx="437.4" cy="116.7" r="1.2"/></g>
<line x1="432.90" y1="145.09" x2="443.90" y2="145.09" stroke="#111" stroke-width="0.9" />
<g fill="#c8102e"><circle cx="455.4" cy="140.9" r="1.2"/><circle cx="454.3" cy="138.6" r="1.2"/><circle cx="456.2" cy="138.5" r="1.2"/><circle cx="451.1" cy="135.9" r="1.2"/><circle cx="453.1" cy="136.3" r="1.2"/><circle cx="455.2" cy="137.0" r="1.2"/><circle cx="457.4" cy="136.3" r="1.2"/><circle cx="459.6" cy="136.1" r="1.2"/><circle cx="452.3" cy="134.3" r="1.2"/><circle cx="454.3" cy="134.8" r="1.2"/><circle cx="456.5" cy="134.8" r="1.2"/><circle cx="458.6" cy="134.2" r="1.2"/><circle cx="451.1" cy="132.2" r="1.2"/><circle cx="453.2" cy="132.6" r="1.2"/><circle cx="455.3" cy="132.9" r="1.2"/><circle cx="457.3" cy="132.4" r="1.2"/><circle cx="459.5" cy="131.9" r="1.2"/><circle cx="452.0" cy="130.4" r="1.2"/><circle cx="454.2" cy="130.8" r="1.2"/><circle cx="456.5" cy="130.7" r="1.2"/><circle cx="458.6" cy="130.3" r="1.2"/><circle cx="451.1" cy="128.3" r="1.2"/><circle cx="453.2" cy="128.6" r="1.2"/><circle cx="455.4" cy="129.0" r="1.2"/><circle cx="457.4" cy="128.7" r="1.2"/><circle cx="459.4" cy="128.2" r="1.2"/><circle cx="452.3" cy="126.4" r="1.2"/><circle cx="454.4" cy="126.9" r="1.2"/><circle cx="456.3" cy="127.0" r="1.2"/><circle cx="458.3" cy="126.5" r="1.2"/><circle cx="451.1" cy="124.4" r="1.2"/><circle cx="453.2" cy="124.7" r="1.2"/><circle cx="455.3" cy="125.3" r="1.2"/><circle cx="457.3" cy="124.7" r="1.2"/><circle cx="459.5" cy="124.3" r="1.2"/><circle cx="452.1" cy="122.7" r="1.2"/><circle cx="454.2" cy="123.0" r="1.2"/><circle cx="456.3" cy="123.0" r="1.2"/><circle cx="458.6" cy="122.6" r="1.2"/><circle cx="451.0" cy="120.3" r="1.2"/><circle cx="453.1" cy="120.9" r="1.2"/><circle cx="455.3" cy="121.4" r="1.2"/><circle cx="457.3" cy="120.9" r="1.2"/><circle cx="459.6" cy="120.4" r="1.2"/><circle cx="453.1" cy="118.7" r="1.2"/><circle cx="455.2" cy="119.5" r="1.2"/><circle cx="457.4" cy="118.9" r="1.2"/><circle cx="451.2" cy="116.5" r="1.2"/><circle cx="453.2" cy="117.0" r="1.2"/><circle cx="455.4" cy="117.4" r="1.2"/><circle cx="457.5" cy="116.8" r="1.2"/><circle cx="459.6" cy="116.5" r="1.2"/><circle cx="452.0" cy="114.7" r="1.2"/><circle cx="454.1" cy="115.3" r="1.2"/><circle cx="456.5" cy="115.3" r="1.2"/><circle cx="458.4" cy="114.9" r="1.2"/><circle cx="451.1" cy="112.5" r="1.2"/><circle cx="453.1" cy="113.0" r="1.2"/><circle cx="455.2" cy="113.5" r="1.2"/><circle cx="457.4" cy="113.2" r="1.2"/><circle cx="459.4" cy="112.6" r="1.2"/><circle cx="453.1" cy="111.2" r="1.2"/><circle cx="455.3" cy="111.7" r="1.2"/><circle cx="457.4" cy="110.9" r="1.2"/><circle cx="451.1" cy="108.8" r="1.2"/><circle cx="453.3" cy="109.1" r="1.2"/><circle cx="455.3" cy="109.5" r="1.2"/><circle cx="457.4" cy="109.0" r="1.2"/><circle cx="459.4" cy="108.5" r="1.2"/><circle cx="453.3" cy="107.1" r="1.2"/><circle cx="455.4" cy="107.5" r="1.2"/><circle cx="457.5" cy="107.1" r="1.2"/><circle cx="452.2" cy="104.9" r="1.2"/><circle cx="454.3" cy="105.4" r="1.2"/><circle cx="456.2" cy="105.5" r="1.2"/><circle cx="458.5" cy="105.1" r="1.2"/><circle cx="453.1" cy="103.3" r="1.2"/><circle cx="455.4" cy="103.7" r="1.2"/><circle cx="457.5" cy="103.2" r="1.2"/><circle cx="452.2" cy="101.0" r="1.2"/><circle cx="454.1" cy="101.6" r="1.2"/><circle cx="456.4" cy="101.4" r="1.2"/><circle cx="458.4" cy="101.2" r="1.2"/><circle cx="455.4" cy="99.8" r="1.2"/><circle cx="453.3" cy="96.5" r="1.2"/><circle cx="457.3" cy="96.5" r="1.2"/><circle cx="454.3" cy="94.4" r="1.2"/><circle cx="451.5" cy="92.5" r="1.2"/><circle cx="455.5" cy="92.5" r="1.2"/><circle cx="459.1" cy="92.5" r="1.2"/></g>
<line x1="449.80" y1="121.53" x2="460.80" y2="121.53" stroke="#111" stroke-width="0.9" />
<line x1="295.40" y1="36.60" x2="295.40" y2="149.60" stroke="#1e1e1e" stroke-width="0.9" />
<line x1="294.95" y1="149.20" x2="471.00" y2="149.20" stroke="#1e1e1e" stroke-width="0.9" />
<line x1="292.30" y1="149.20" x2="295.40" y2="149.20" stroke="#1e1e1e" stroke-width="0.8" />
<text x="289.30" y="151.40" font-size="6.3" text-anchor="end" fill="#2e2e2e" stroke="#2e2e2e" stroke-width="0.1" >0</text>
<line x1="292.30" y1="135.50" x2="295.40" y2="135.50" stroke="#1e1e1e" stroke-width="0.8" />
<text x="289.30" y="137.70" font-size="6.3" text-anchor="end" fill="#2e2e2e" stroke="#2e2e2e" stroke-width="0.1" >1</text>
<line x1="292.30" y1="121.80" x2="295.40" y2="121.80" stroke="#1e1e1e" stroke-width="0.8" />
<text x="289.30" y="124.00" font-size="6.3" text-anchor="end" fill="#2e2e2e" stroke="#2e2e2e" stroke-width="0.1" >2</text>
<line x1="292.30" y1="108.10" x2="295.40" y2="108.10" stroke="#1e1e1e" stroke-width="0.8" />
<text x="289.30" y="110.30" font-size="6.3" text-anchor="end" fill="#2e2e2e" stroke="#2e2e2e" stroke-width="0.1" >3</text>
<line x1="292.30" y1="94.40" x2="295.40" y2="94.40" stroke="#1e1e1e" stroke-width="0.8" />
<text x="289.30" y="96.60" font-size="6.3" text-anchor="end" fill="#2e2e2e" stroke="#2e2e2e" stroke-width="0.1" >4</text>
<line x1="292.30" y1="80.70" x2="295.40" y2="80.70" stroke="#1e1e1e" stroke-width="0.8" />
<text x="289.30" y="82.90" font-size="6.3" text-anchor="end" fill="#2e2e2e" stroke="#2e2e2e" stroke-width="0.1" >5</text>
<line x1="292.30" y1="67.00" x2="295.40" y2="67.00" stroke="#1e1e1e" stroke-width="0.8" />
<text x="289.30" y="69.20" font-size="6.3" text-anchor="end" fill="#2e2e2e" stroke="#2e2e2e" stroke-width="0.1" >6</text>
<line x1="292.30" y1="53.30" x2="295.40" y2="53.30" stroke="#1e1e1e" stroke-width="0.8" />
<text x="289.30" y="55.50" font-size="6.3" text-anchor="end" fill="#2e2e2e" stroke="#2e2e2e" stroke-width="0.1" >7</text>
<line x1="292.30" y1="39.60" x2="295.40" y2="39.60" stroke="#1e1e1e" stroke-width="0.8" />
<text x="289.30" y="41.80" font-size="6.3" text-anchor="end" fill="#2e2e2e" stroke="#2e2e2e" stroke-width="0.1" >8</text>
<line x1="317.00" y1="149.20" x2="317.00" y2="151.70" stroke="#1e1e1e" stroke-width="0.8" />
<text x="317.00" y="161.40" font-size="6.7" text-anchor="middle" fill="#2e2e2e" stroke="#2e2e2e" stroke-width="0.1" >DMSO</text>
<line x1="360.20" y1="149.20" x2="360.20" y2="151.70" stroke="#1e1e1e" stroke-width="0.8" />
<text x="360.20" y="161.40" font-size="6.7" text-anchor="middle" fill="#2e2e2e" stroke="#2e2e2e" stroke-width="0.1" >8</text>
<line x1="403.50" y1="149.20" x2="403.50" y2="151.70" stroke="#1e1e1e" stroke-width="0.8" />
<text x="403.50" y="161.40" font-size="6.7" text-anchor="middle" fill="#2e2e2e" stroke="#2e2e2e" stroke-width="0.1" >20</text>
<line x1="446.80" y1="149.20" x2="446.80" y2="151.70" stroke="#1e1e1e" stroke-width="0.8" />
<text x="446.80" y="161.40" font-size="6.7" text-anchor="middle" fill="#2e2e2e" stroke="#2e2e2e" stroke-width="0.1" >24</text>
<text x="381.50" y="174.00" font-size="8.4" text-anchor="middle" fill="#2e2e2e" stroke="#2e2e2e" stroke-width="0.1" textLength="25.90" lengthAdjust="spacingAndGlyphs" >Time [h]</text>
<g transform="translate(281.10,94.10) rotate(-90)"><text x="-32.30" y="0.00" font-size="8.40" fill="#2e2e2e" stroke="#2e2e2e" stroke-width="0.1" textLength="5.28" lengthAdjust="spacingAndGlyphs">O</text><text x="-27.02" y="-2.69" font-size="5.21" fill="#2e2e2e" stroke="#2e2e2e" stroke-width="0.1" textLength="2.34" lengthAdjust="spacingAndGlyphs">6</text><text x="-24.68" y="0.00" font-size="8.40" fill="#2e2e2e" stroke="#2e2e2e" stroke-width="0.1" textLength="56.98" lengthAdjust="spacingAndGlyphs">MeG in DNA [AFU]</text></g>
<circle cx="302.30" cy="44.90" r="1.05" fill="#18488a"/>
<circle cx="302.30" cy="53.40" r="1.05" fill="#c8102e"/>
<text x="307.30" y="46.90" font-size="6.3" font-style="italic" fill="#2e2e2e" stroke="#2e2e2e" stroke-width="0.1" textLength="58.40" lengthAdjust="spacingAndGlyphs" >GFI1-36S-MLL-AF9</text>
<text x="307.30" y="55.30" font-size="6.3" font-style="italic" fill="#2e2e2e" stroke="#2e2e2e" stroke-width="0.1" textLength="59.00" lengthAdjust="spacingAndGlyphs" >GFI1-36N-MLL-AF9</text>
<text x="361.00" y="123.96" font-size="7.6" text-anchor="middle" fill="#333" stroke="#333" stroke-width="0.1" textLength="10.20" lengthAdjust="spacingAndGlyphs" >****</text>
<line x1="352.80" y1="122.70" x2="369.20" y2="122.70" stroke="#1e1e1e" stroke-width="0.9" />
<text x="362.10" y="131.60" font-size="6.6" text-anchor="middle" fill="#2e2e2e" stroke="#2e2e2e" stroke-width="0.1" textLength="28.40" lengthAdjust="spacingAndGlyphs" ><tspan font-style="italic">P</tspan> &lt; .0001</text>
<text x="404.60" y="37.76" font-size="7.6" text-anchor="middle" fill="#333" stroke="#333" stroke-width="0.1" textLength="10.20" lengthAdjust="spacingAndGlyphs" >****</text>
<line x1="396.40" y1="36.40" x2="412.80" y2="36.40" stroke="#1e1e1e" stroke-width="0.9" />
<text x="403.40" y="43.60" font-size="6.6" text-anchor="middle" fill="#2e2e2e" stroke="#2e2e2e" stroke-width="0.1" textLength="28.40" lengthAdjust="spacingAndGlyphs" ><tspan font-style="italic">P</tspan> &lt; .0001</text>
<text x="448.30" y="81.86" font-size="7.6" text-anchor="middle" fill="#333" stroke="#333" stroke-width="0.1" textLength="10.20" lengthAdjust="spacingAndGlyphs" >****</text>
<line x1="440.10" y1="80.60" x2="456.50" y2="80.60" stroke="#1e1e1e" stroke-width="0.9" />
<text x="448.50" y="88.90" font-size="6.6" text-anchor="middle" fill="#2e2e2e" stroke="#2e2e2e" stroke-width="0.1" textLength="28.40" lengthAdjust="spacingAndGlyphs" ><tspan font-style="italic">P</tspan> &lt; .0001</text>
<text x="13.60" y="202.50" font-size="11.6" font-weight="bold" fill="#111" stroke="#111" stroke-width="0.1" >C</text>
<line x1="44.80" y1="283.76" x2="196.00" y2="283.76" stroke="#1a1a1a" stroke-width="1.0" stroke-dasharray="0.8 1.0" />
<path d="M44.80,250.96 L46.42,250.97 L48.05,250.97 L49.67,250.98 L51.30,250.99 L52.92,250.99 L54.55,251.00 L56.17,251.01 L57.80,251.02 L59.42,251.03 L61.05,251.05 L62.67,251.06 L64.30,251.07 L65.92,251.09 L67.55,251.11 L69.17,251.13 L70.80,251.15 L72.42,251.17 L74.05,251.20 L75.67,251.23 L77.30,251.26 L78.92,251.30 L80.55,251.34 L82.17,251.38 L83.80,251.42 L85.42,251.47 L87.05,251.53 L88.67,251.59 L90.30,251.66 L91.93,251.73 L93.55,251.81 L95.17,251.90 L96.80,251.99 L98.42,252.10 L100.05,252.21 L101.67,252.33 L103.30,252.47 L104.93,252.62 L106.55,252.78 L108.17,252.96 L109.80,253.16 L111.42,253.37 L113.05,253.60 L114.67,253.85 L116.30,254.13 L117.92,254.43 L119.55,254.75 L121.17,255.11 L122.80,255.49 L124.42,255.91 L126.05,256.36 L127.67,256.84 L129.30,257.37 L130.93,257.93 L132.55,258.54 L134.18,259.19 L135.80,259.90 L137.43,260.65 L139.05,261.45 L140.68,262.30 L142.30,263.21 L143.93,264.17 L145.55,265.19 L147.18,266.26 L148.80,267.38 L150.42,268.56 L152.05,269.80 L153.68,271.08 L155.30,272.40 L156.93,273.77 L158.55,275.18 L160.18,276.63 L161.80,278.10 L163.43,279.60 L165.05,281.11 L166.68,282.64 L168.30,284.17 L169.93,285.69 L171.55,287.21 L173.18,288.71 L174.80,290.19" fill="none" stroke="#24508a" stroke-width="1.3"/>
<path d="M44.80,252.63 L46.42,252.74 L48.05,252.86 L49.67,252.99 L51.30,253.13 L52.92,253.28 L54.55,253.44 L56.17,253.61 L57.80,253.80 L59.42,254.00 L61.05,254.22 L62.67,254.45 L64.30,254.70 L65.92,254.97 L67.55,255.25 L69.17,255.56 L70.80,255.89 L72.42,256.24 L74.05,256.61 L75.67,257.02 L77.30,257.44 L78.92,257.90 L80.55,258.38 L82.17,258.90 L83.80,259.45 L85.42,260.03 L87.05,260.64 L88.67,261.29 L90.30,261.98 L91.93,262.70 L93.55,263.47 L95.17,264.27 L96.80,265.10 L98.42,265.98 L100.05,266.90 L101.67,267.85 L103.30,268.84 L104.93,269.87 L106.55,270.93 L108.17,272.03 L109.80,273.15 L111.42,274.31 L113.05,275.49 L114.67,276.70 L116.30,277.93 L117.92,279.17 L119.55,280.43 L121.17,281.70 L122.80,282.98 L124.42,284.26 L126.05,285.53 L127.67,286.80 L129.30,288.07 L130.93,289.31 L132.55,290.55 L134.18,291.76 L135.80,292.95 L137.43,294.11 L139.05,295.25 L140.68,296.35 L142.30,297.42 L143.93,298.45 L145.55,299.45 L147.18,300.42 L148.80,301.34 L150.42,302.23 L152.05,303.07 L153.68,303.88 L155.30,304.65 L156.93,305.39 L158.55,306.08 L160.18,306.74 L161.80,307.36 L163.43,307.95 L165.05,308.51 L166.68,309.03 L168.30,309.52 L169.93,309.98 L171.55,310.42 L173.18,310.83 L174.80,311.21" fill="none" stroke="#c8102e" stroke-width="1.3"/>
<line x1="44.80" y1="251.23" x2="44.80" y2="255.78" stroke="#c8102e" stroke-width="0.7" />
<line x1="43.30" y1="251.23" x2="46.30" y2="251.23" stroke="#c8102e" stroke-width="0.7" />
<line x1="43.30" y1="255.78" x2="46.30" y2="255.78" stroke="#c8102e" stroke-width="0.7" />
<rect x="43.40" y="251.78" width="2.80" height="2.80" fill="#c8102e" />
<line x1="79.80" y1="251.23" x2="79.80" y2="262.29" stroke="#c8102e" stroke-width="0.7" />
<line x1="78.30" y1="251.23" x2="81.30" y2="251.23" stroke="#c8102e" stroke-width="0.7" />
<line x1="78.30" y1="262.29" x2="81.30" y2="262.29" stroke="#c8102e" stroke-width="0.7" />
<rect x="78.40" y="253.08" width="2.80" height="2.80" fill="#c8102e" />
<rect x="93.40" y="268.70" width="2.80" height="2.80" fill="#c8102e" />
<line x1="114.80" y1="276.61" x2="114.80" y2="279.21" stroke="#c8102e" stroke-width="0.7" />
<line x1="113.30" y1="276.61" x2="116.30" y2="276.61" stroke="#c8102e" stroke-width="0.7" />
<line x1="113.30" y1="279.21" x2="116.30" y2="279.21" stroke="#c8102e" stroke-width="0.7" />
<rect x="113.40" y="276.51" width="2.80" height="2.80" fill="#c8102e" />
<line x1="129.80" y1="285.07" x2="129.80" y2="286.37" stroke="#c8102e" stroke-width="0.7" />
<line x1="128.30" y1="285.07" x2="131.30" y2="285.07" stroke="#c8102e" stroke-width="0.7" />
<line x1="128.30" y1="286.37" x2="131.30" y2="286.37" stroke="#c8102e" stroke-width="0.7" />
<rect x="128.40" y="284.32" width="2.80" height="2.80" fill="#c8102e" />
<rect x="143.40" y="292.13" width="2.80" height="2.80" fill="#c8102e" />
<line x1="159.80" y1="309.14" x2="159.80" y2="312.40" stroke="#c8102e" stroke-width="0.7" />
<line x1="158.30" y1="309.14" x2="161.30" y2="309.14" stroke="#c8102e" stroke-width="0.7" />
<line x1="158.30" y1="312.40" x2="161.30" y2="312.40" stroke="#c8102e" stroke-width="0.7" />
<rect x="158.40" y="309.04" width="2.80" height="2.80" fill="#c8102e" />
<line x1="44.80" y1="246.02" x2="44.80" y2="255.78" stroke="#24508a" stroke-width="0.7" />
<line x1="43.30" y1="246.02" x2="46.30" y2="246.02" stroke="#24508a" stroke-width="0.7" />
<line x1="43.30" y1="255.78" x2="46.30" y2="255.78" stroke="#24508a" stroke-width="0.7" />
<circle cx="44.80" cy="251.23" r="1.4" fill="#24508a"/>
<line x1="79.80" y1="241.47" x2="79.80" y2="249.28" stroke="#24508a" stroke-width="0.7" />
<line x1="78.30" y1="241.47" x2="81.30" y2="241.47" stroke="#24508a" stroke-width="0.7" />
<line x1="78.30" y1="249.28" x2="81.30" y2="249.28" stroke="#24508a" stroke-width="0.7" />
<circle cx="79.80" cy="246.02" r="1.4" fill="#24508a"/>
<line x1="94.80" y1="232.36" x2="94.80" y2="251.23" stroke="#24508a" stroke-width="0.7" />
<line x1="93.30" y1="232.36" x2="96.30" y2="232.36" stroke="#24508a" stroke-width="0.7" />
<line x1="93.30" y1="251.23" x2="96.30" y2="251.23" stroke="#24508a" stroke-width="0.7" />
<circle cx="94.80" cy="242.12" r="1.4" fill="#24508a"/>
<text x="94.80" y="232.72" font-size="6.6" text-anchor="middle" fill="#333" stroke="#333" stroke-width="0.1" textLength="5.10" lengthAdjust="spacingAndGlyphs" >**</text>
<line x1="114.80" y1="233.66" x2="114.80" y2="254.48" stroke="#24508a" stroke-width="0.7" />
<line x1="113.30" y1="233.66" x2="116.30" y2="233.66" stroke="#24508a" stroke-width="0.7" />
<line x1="113.30" y1="254.48" x2="116.30" y2="254.48" stroke="#24508a" stroke-width="0.7" />
<circle cx="114.80" cy="243.42" r="1.4" fill="#24508a"/>
<text x="114.80" y="234.02" font-size="6.6" text-anchor="middle" fill="#333" stroke="#333" stroke-width="0.1" textLength="5.10" lengthAdjust="spacingAndGlyphs" >**</text>
<line x1="129.80" y1="242.12" x2="129.80" y2="251.23" stroke="#24508a" stroke-width="0.7" />
<line x1="128.30" y1="242.12" x2="131.30" y2="242.12" stroke="#24508a" stroke-width="0.7" />
<line x1="128.30" y1="251.23" x2="131.30" y2="251.23" stroke="#24508a" stroke-width="0.7" />
<circle cx="129.80" cy="247.33" r="1.4" fill="#24508a"/>
<text x="129.80" y="242.48" font-size="6.6" text-anchor="middle" fill="#333" stroke="#333" stroke-width="0.1" textLength="7.65" lengthAdjust="spacingAndGlyphs" >***</text>
<line x1="144.80" y1="249.93" x2="144.80" y2="260.34" stroke="#24508a" stroke-width="0.7" />
<line x1="143.30" y1="249.93" x2="146.30" y2="249.93" stroke="#24508a" stroke-width="0.7" />
<line x1="143.30" y1="260.34" x2="146.30" y2="260.34" stroke="#24508a" stroke-width="0.7" />
<circle cx="144.80" cy="255.13" r="1.4" fill="#24508a"/>
<text x="144.80" y="250.29" font-size="6.6" text-anchor="middle" fill="#333" stroke="#333" stroke-width="0.1" textLength="7.65" lengthAdjust="spacingAndGlyphs" >***</text>
<line x1="159.80" y1="270.75" x2="159.80" y2="277.91" stroke="#24508a" stroke-width="0.7" />
<line x1="158.30" y1="270.75" x2="161.30" y2="270.75" stroke="#24508a" stroke-width="0.7" />
<line x1="158.30" y1="277.91" x2="161.30" y2="277.91" stroke="#24508a" stroke-width="0.7" />
<circle cx="159.80" cy="274.00" r="1.4" fill="#24508a"/>
<text x="159.80" y="271.11" font-size="6.6" text-anchor="middle" fill="#333" stroke="#333" stroke-width="0.1" textLength="7.65" lengthAdjust="spacingAndGlyphs" >***</text>
<rect x="173.40" y="314.70" width="2.80" height="2.80" fill="#2a3a6a" />
<line x1="44.80" y1="215.80" x2="44.80" y2="320.45" stroke="#1e1e1e" stroke-width="0.9" />
<line x1="44.35" y1="320.00" x2="195.50" y2="320.00" stroke="#1e1e1e" stroke-width="0.9" />
<line x1="42.20" y1="316.30" x2="44.80" y2="316.30" stroke="#1e1e1e" stroke-width="0.8" />
<text x="38.60" y="318.70" font-size="6.8" text-anchor="end" fill="#2e2e2e" stroke="#2e2e2e" stroke-width="0.1" >0</text>
<line x1="42.20" y1="300.03" x2="44.80" y2="300.03" stroke="#1e1e1e" stroke-width="0.8" />
<text x="38.60" y="302.43" font-size="6.8" text-anchor="end" fill="#2e2e2e" stroke="#2e2e2e" stroke-width="0.1" >25</text>
<line x1="42.20" y1="283.76" x2="44.80" y2="283.76" stroke="#1e1e1e" stroke-width="0.8" />
<text x="38.60" y="286.16" font-size="6.8" text-anchor="end" fill="#2e2e2e" stroke="#2e2e2e" stroke-width="0.1" >50</text>
<line x1="42.20" y1="267.50" x2="44.80" y2="267.50" stroke="#1e1e1e" stroke-width="0.8" />
<text x="38.60" y="269.90" font-size="6.8" text-anchor="end" fill="#2e2e2e" stroke="#2e2e2e" stroke-width="0.1" >75</text>
<line x1="42.20" y1="251.23" x2="44.80" y2="251.23" stroke="#1e1e1e" stroke-width="0.8" />
<text x="38.60" y="253.63" font-size="6.8" text-anchor="end" fill="#2e2e2e" stroke="#2e2e2e" stroke-width="0.1" >100</text>
<line x1="42.20" y1="234.96" x2="44.80" y2="234.96" stroke="#1e1e1e" stroke-width="0.8" />
<text x="38.60" y="237.36" font-size="6.8" text-anchor="end" fill="#2e2e2e" stroke="#2e2e2e" stroke-width="0.1" >125</text>
<line x1="42.20" y1="218.70" x2="44.80" y2="218.70" stroke="#1e1e1e" stroke-width="0.8" />
<text x="38.60" y="221.10" font-size="6.8" text-anchor="end" fill="#2e2e2e" stroke="#2e2e2e" stroke-width="0.1" >150</text>
<line x1="44.80" y1="320.00" x2="44.80" y2="322.60" stroke="#1e1e1e" stroke-width="0.8" />
<text x="44.80" y="331.30" font-size="6.8" text-anchor="middle" fill="#2e2e2e" stroke="#2e2e2e" stroke-width="0.1" >0.0</text>
<line x1="69.80" y1="320.00" x2="69.80" y2="322.60" stroke="#1e1e1e" stroke-width="0.8" />
<text x="69.80" y="331.30" font-size="6.8" text-anchor="middle" fill="#2e2e2e" stroke="#2e2e2e" stroke-width="0.1" >0.5</text>
<line x1="94.80" y1="320.00" x2="94.80" y2="322.60" stroke="#1e1e1e" stroke-width="0.8" />
<text x="94.80" y="331.30" font-size="6.8" text-anchor="middle" fill="#2e2e2e" stroke="#2e2e2e" stroke-width="0.1" >1.0</text>
<line x1="119.80" y1="320.00" x2="119.80" y2="322.60" stroke="#1e1e1e" stroke-width="0.8" />
<text x="119.80" y="331.30" font-size="6.8" text-anchor="middle" fill="#2e2e2e" stroke="#2e2e2e" stroke-width="0.1" >1.5</text>
<line x1="144.80" y1="320.00" x2="144.80" y2="322.60" stroke="#1e1e1e" stroke-width="0.8" />
<text x="144.80" y="331.30" font-size="6.8" text-anchor="middle" fill="#2e2e2e" stroke="#2e2e2e" stroke-width="0.1" >2.0</text>
<line x1="169.80" y1="320.00" x2="169.80" y2="322.60" stroke="#1e1e1e" stroke-width="0.8" />
<text x="169.80" y="331.30" font-size="6.8" text-anchor="middle" fill="#2e2e2e" stroke="#2e2e2e" stroke-width="0.1" >2.5</text>
<line x1="194.80" y1="320.00" x2="194.80" y2="322.60" stroke="#1e1e1e" stroke-width="0.8" />
<text x="194.80" y="331.30" font-size="6.8" text-anchor="middle" fill="#2e2e2e" stroke="#2e2e2e" stroke-width="0.1" >3.0</text>
<text x="122.00" y="344.20" font-size="8.6" text-anchor="middle" fill="#2e2e2e" stroke="#2e2e2e" stroke-width="0.1" textLength="56.00" lengthAdjust="spacingAndGlyphs" >log [TMZ (µg/ml)]</text>
<text x="21.80" y="267.20" font-size="8.4" text-anchor="middle" fill="#2e2e2e" stroke="#2e2e2e" stroke-width="0.1" textLength="50.70" lengthAdjust="spacingAndGlyphs" transform="rotate(-90 21.80 267.20)" >Cell viability [%]</text>
<text x="47.50" y="298.30" font-size="6.6" fill="#2e2e2e" stroke="#2e2e2e" stroke-width="0.1" textLength="34.00" lengthAdjust="spacingAndGlyphs" ><tspan font-style="italic">P</tspan>** = .0072</text>
<line x1="114.40" y1="209.00" x2="125.40" y2="209.00" stroke="#24508a" stroke-width="1.2" />
<circle cx="119.80" cy="209.00" r="1.4" fill="#24508a"/>
<line x1="114.40" y1="217.00" x2="125.40" y2="217.00" stroke="#c8102e" stroke-width="1.2" />
<rect x="118.40" y="215.60" width="2.80" height="2.80" fill="#c8102e" />
<text x="128.90" y="211.20" font-size="6.5" fill="#2e2e2e" stroke="#2e2e2e" stroke-width="0.1" textLength="58.30" lengthAdjust="spacingAndGlyphs" >GFI1-36S-MLL-AF9</text>
<text x="128.90" y="219.20" font-size="6.5" fill="#2e2e2e" stroke="#2e2e2e" stroke-width="0.1" textLength="59.20" lengthAdjust="spacingAndGlyphs" >GFI1-36N-MLL-AF9</text>
<text x="32.00" y="355.20" font-size="6.6" fill="#2e2e2e" stroke="#2e2e2e" stroke-width="0.1" textLength="17.40" lengthAdjust="spacingAndGlyphs" >GFI1–</text>
<line x1="32.00" y1="356.60" x2="49.40" y2="356.60" stroke="#333" stroke-width="0.55" />
<text x="95.50" y="355.20" font-size="6.6" text-anchor="middle" fill="#2e2e2e" stroke="#2e2e2e" stroke-width="0.1" >36S</text>
<text x="150.80" y="355.20" font-size="6.6" text-anchor="middle" fill="#2e2e2e" stroke="#2e2e2e" stroke-width="0.1" >36N</text>
<text x="32.30" y="366.30" font-size="6.6" fill="#2e2e2e" stroke="#2e2e2e" stroke-width="0.1" textLength="26.60" lengthAdjust="spacingAndGlyphs" >Log(IC<tspan font-size="4.2" dy="1.5">50</tspan><tspan dy="-1.5">)</tspan></text>
<text x="75.40" y="366.30" font-size="6.6" fill="#2e2e2e" stroke="#2e2e2e" stroke-width="0.1" textLength="39.80" lengthAdjust="spacingAndGlyphs" >2.458 <tspan text-decoration="underline">+</tspan>0.138</text>
<text x="131.50" y="366.30" font-size="6.6" fill="#2e2e2e" stroke="#2e2e2e" stroke-width="0.1" textLength="39.80" lengthAdjust="spacingAndGlyphs" >1.580 <tspan text-decoration="underline">+</tspan>0.043</text>
<text x="32.30" y="377.70" font-size="6.6" fill="#2e2e2e" stroke="#2e2e2e" stroke-width="0.1" textLength="35.00" lengthAdjust="spacingAndGlyphs" >IC<tspan font-size="4.2" dy="1.5">50</tspan><tspan dy="-1.5">[µg/ml]</tspan></text>
<text x="75.40" y="377.70" font-size="6.6" fill="#2e2e2e" stroke="#2e2e2e" stroke-width="0.1" textLength="39.60" lengthAdjust="spacingAndGlyphs" >287.2 <tspan text-decoration="underline">+</tspan>1.208</text>
<text x="132.50" y="377.70" font-size="6.6" fill="#2e2e2e" stroke="#2e2e2e" stroke-width="0.1" textLength="38.10" lengthAdjust="spacingAndGlyphs" >38.01 <tspan text-decoration="underline">+</tspan>1.10</text>
<text x="217.20" y="201.90" font-size="11.6" font-weight="bold" fill="#111" stroke="#111" stroke-width="0.1" >D</text>
<rect x="426.60" y="207.80" width="86.20" height="171.50" fill="#f0f0f0" rx="7" />
<g transform="translate(240.30,255.50) scale(1.0)"><path d="M-10,3 C-15,1.5 -21.5,2.5 -21.5,6.5 C-21.5,10 -13,9.5 -1,9.8" fill="none" stroke="#e6b894" stroke-width="1.0"/><path d="M-11,1 C-11.5,-6 -5,-9.6 1,-9.6 C7,-9.6 11,-6 15,-3 C18.5,-0.8 22,-0.2 25,0.2 C22,2.5 18.5,5 14,7 C9,9.3 1,9.8 -3,9.2 C-8.5,8.2 -10.8,5.5 -11,1 Z" fill="#d7d7d4" stroke="#c2c2bf" stroke-width="0.4"/><ellipse cx="-1" cy="-1" rx="7" ry="5.5" fill="#dfdfdc" opacity="0.8"/><ellipse cx="10.5" cy="-8.4" rx="2.5" ry="3.1" transform="rotate(-15 10.5 -8.4)" fill="#e2c4a4" stroke="#cfa884" stroke-width="0.35"/><ellipse cx="16.2" cy="-4.4" rx="2.6" ry="3.2" transform="rotate(-25 16.2 -4.4)" fill="#e2c4a4" stroke="#cfa884" stroke-width="0.35"/><circle cx="10.8" cy="3.1" r="0.55" fill="#333"/><circle cx="14" cy="3.1" r="0.55" fill="#333"/><circle cx="25.6" cy="0.2" r="1.15" fill="#111"/><path d="M-0.5,9.3 l2.8,1.1 M11,8.6 l3,1.2" stroke="#444" stroke-width="0.9"/></g>
<text x="266.60" y="241.30" font-size="6.8" fill="#2e2e2e" stroke="#2e2e2e" stroke-width="0.1" >BM</text>
<text x="266.60" y="248.30" font-size="6.8" fill="#2e2e2e" stroke="#2e2e2e" stroke-width="0.1" textLength="25.20" lengthAdjust="spacingAndGlyphs" >isolation</text>
<line x1="268.00" y1="257.40" x2="280.90" y2="257.40" stroke="#2a2a2a" stroke-width="1.05" />
<path d="M285.00,257.40 L280.40,259.70 L280.40,255.10 Z" fill="#111"/>
<ellipse cx="303.50" cy="258.30" rx="16.3" ry="8.0" fill="#fcf4ea" stroke="#6e6e6e" stroke-width="0.7"/>
<path d="M287.70,258.90 A15.8,7.1 0 0 0 319.30,258.90" fill="none" stroke="#f0d3aa" stroke-width="1.8"/>
<ellipse cx="303.50" cy="257.90" rx="14.50" ry="4.80" fill="#eda262" stroke="#c9793f" stroke-width="0.4"/>
<ellipse cx="297.00" cy="258.60" rx="2.9" ry="2.088" fill="#cf4f3a"/>
<ellipse cx="302.00" cy="259.10" rx="2.2" ry="1.584" fill="#cf4f3a"/>
<ellipse cx="307.70" cy="257.70" rx="3.2" ry="2.304" fill="#cf4f3a"/>
<ellipse cx="312.50" cy="259.20" rx="2.2" ry="1.584" fill="#cf4f3a"/>
<ellipse cx="292.70" cy="258.90" rx="1.6" ry="1.152" fill="#cf4f3a"/>
<ellipse cx="305.00" cy="256.80" rx="1.3" ry="0.9359999999999999" fill="#cf4f3a"/>
<ellipse cx="294.50" cy="256.80" rx="0.9" ry="0.4" fill="#f7e3a0"/>
<ellipse cx="300.50" cy="256.50" rx="0.9" ry="0.4" fill="#f7e3a0"/>
<ellipse cx="305.50" cy="260.10" rx="0.9" ry="0.4" fill="#f7e3a0"/>
<ellipse cx="310.50" cy="256.70" rx="0.9" ry="0.4" fill="#f7e3a0"/>
<ellipse cx="315.00" cy="257.80" rx="0.9" ry="0.4" fill="#f7e3a0"/>
<ellipse cx="291.50" cy="259.80" rx="0.9" ry="0.4" fill="#f7e3a0"/>
<text x="303.60" y="275.20" font-size="6.8" text-anchor="middle" fill="#2e2e2e" stroke="#2e2e2e" stroke-width="0.1" textLength="25.50" lengthAdjust="spacingAndGlyphs" >BM cells</text>
<text x="309.00" y="246.20" font-size="6.8" fill="#2e2e2e" stroke="#2e2e2e" stroke-width="0.1" textLength="37.70" lengthAdjust="spacingAndGlyphs" >Lin<tspan font-size="4.2" dy="-2.4">−</tspan><tspan dy="2.4"> isolation</tspan></text>
<line x1="321.00" y1="257.50" x2="326.70" y2="257.50" stroke="#2a2a2a" stroke-width="1.05" />
<path d="M330.80,257.50 L326.20,259.80 L326.20,255.20 Z" fill="#111"/>
<ellipse cx="347.60" cy="258.00" rx="16.3" ry="8.0" fill="#fcf4ea" stroke="#6e6e6e" stroke-width="0.7"/>
<path d="M331.80,258.60 A15.8,7.1 0 0 0 363.40,258.60" fill="none" stroke="#f0d3aa" stroke-width="1.8"/>
<ellipse cx="347.60" cy="257.60" rx="14.50" ry="4.80" fill="#eda262" stroke="#c9793f" stroke-width="0.4"/>
<ellipse cx="341.10" cy="258.30" rx="2.9" ry="2.088" fill="#cf4f3a"/>
<ellipse cx="346.10" cy="258.80" rx="2.2" ry="1.584" fill="#cf4f3a"/>
<ellipse cx="351.80" cy="257.40" rx="3.2" ry="2.304" fill="#cf4f3a"/>
<ellipse cx="356.60" cy="258.90" rx="2.2" ry="1.584" fill="#cf4f3a"/>
<ellipse cx="336.80" cy="258.60" rx="1.6" ry="1.152" fill="#cf4f3a"/>
<ellipse cx="349.10" cy="256.50" rx="1.3" ry="0.9359999999999999" fill="#cf4f3a"/>
<ellipse cx="338.60" cy="256.50" rx="0.9" ry="0.4" fill="#f7e3a0"/>
<ellipse cx="344.60" cy="256.20" rx="0.9" ry="0.4" fill="#f7e3a0"/>
<ellipse cx="349.60" cy="259.80" rx="0.9" ry="0.4" fill="#f7e3a0"/>
<ellipse cx="354.60" cy="256.40" rx="0.9" ry="0.4" fill="#f7e3a0"/>
<ellipse cx="359.10" cy="257.50" rx="0.9" ry="0.4" fill="#f7e3a0"/>
<ellipse cx="335.60" cy="259.50" rx="0.9" ry="0.4" fill="#f7e3a0"/>
<text x="349.60" y="275.00" font-size="6.8" text-anchor="middle" fill="#2e2e2e" stroke="#2e2e2e" stroke-width="0.1" textLength="25.40" lengthAdjust="spacingAndGlyphs" >Lin<tspan font-size="4.2" dy="-2.4">−</tspan><tspan dy="2.4"> cells</tspan></text>
<line x1="365.50" y1="257.50" x2="372.10" y2="257.50" stroke="#2a2a2a" stroke-width="1.05" />
<path d="M376.20,257.50 L371.60,259.80 L371.60,255.20 Z" fill="#111"/>
<ellipse cx="392.20" cy="257.90" rx="16.3" ry="8.0" fill="#fcf4ea" stroke="#6e6e6e" stroke-width="0.7"/>
<path d="M376.40,258.50 A15.8,7.1 0 0 0 408.00,258.50" fill="none" stroke="#f0d3aa" stroke-width="1.8"/>
<ellipse cx="392.20" cy="257.40" rx="13.70" ry="4.32" fill="#30a040" stroke="#2a7a30" stroke-width="0.3"/>
<g fill="#1b6e27"><circle cx="396.26" cy="260.40" r="0.55"/><circle cx="400.58" cy="257.03" r="0.55"/><circle cx="396.31" cy="254.95" r="0.55"/><circle cx="396.14" cy="256.39" r="0.55"/><circle cx="389.03" cy="259.49" r="0.55"/><circle cx="384.92" cy="258.07" r="0.55"/><circle cx="392.64" cy="258.38" r="0.55"/><circle cx="391.27" cy="257.10" r="0.55"/><circle cx="385.57" cy="258.64" r="0.55"/><circle cx="397.12" cy="257.49" r="0.55"/><circle cx="398.25" cy="256.24" r="0.55"/><circle cx="390.20" cy="260.08" r="0.55"/><circle cx="388.97" cy="259.71" r="0.55"/><circle cx="404.20" cy="257.21" r="0.55"/><circle cx="386.81" cy="254.42" r="0.55"/><circle cx="392.72" cy="259.35" r="0.55"/><circle cx="402.56" cy="258.07" r="0.55"/><circle cx="386.23" cy="258.94" r="0.55"/><circle cx="384.97" cy="257.13" r="0.55"/><circle cx="399.95" cy="255.54" r="0.55"/><circle cx="384.46" cy="256.35" r="0.55"/><circle cx="402.89" cy="257.91" r="0.55"/><circle cx="392.47" cy="260.16" r="0.55"/><circle cx="393.44" cy="257.67" r="0.55"/><circle cx="387.45" cy="255.07" r="0.55"/><circle cx="390.77" cy="259.95" r="0.55"/><circle cx="387.00" cy="257.41" r="0.55"/><circle cx="396.40" cy="256.88" r="0.55"/><circle cx="382.69" cy="257.35" r="0.55"/><circle cx="383.08" cy="255.42" r="0.55"/></g>
<text x="392.40" y="275.00" font-size="6.8" text-anchor="middle" fill="#2e2e2e" stroke="#2e2e2e" stroke-width="0.1" textLength="31.50" lengthAdjust="spacingAndGlyphs" >GFP+ cells</text>
<text x="352.00" y="237.50" font-size="6.8" fill="#2e2e2e" stroke="#2e2e2e" stroke-width="0.1" textLength="27.80" lengthAdjust="spacingAndGlyphs" >MLL-AF9</text>
<text x="352.00" y="246.20" font-size="6.8" fill="#2e2e2e" stroke="#2e2e2e" stroke-width="0.1" textLength="37.20" lengthAdjust="spacingAndGlyphs" >transduction</text>
<path d="M394.8,243.8 L394.8,221.9 L416,221.9" fill="none" stroke="#2a2a2a" stroke-width="1.2"/>
<path d="M420.2,221.9 L415.2,219.6 L415.2,224.2 Z" fill="#111"/>
<text x="468.50" y="205.20" font-size="6.9" text-anchor="middle" fill="#2e2e2e" stroke="#2e2e2e" stroke-width="0.1" textLength="56.00" lengthAdjust="spacingAndGlyphs" >AML development</text>
<text x="429.80" y="218.70" font-size="6.8" fill="#2e2e2e" stroke="#2e2e2e" stroke-width="0.1" textLength="26.90" lengthAdjust="spacingAndGlyphs" >1<tspan font-size="4.2" dy="-2.4">st</tspan><tspan dy="2.4"> round</tspan></text>
<g transform="translate(466.50,226.30) scale(1.0)"><path d="M-10,3 C-15,1.5 -21.5,2.5 -21.5,6.5 C-21.5,10 -13,9.5 -1,9.8" fill="none" stroke="#e6b894" stroke-width="1.0"/><path d="M-11,1 C-11.5,-6 -5,-9.6 1,-9.6 C7,-9.6 11,-6 15,-3 C18.5,-0.8 22,-0.2 25,0.2 C22,2.5 18.5,5 14,7 C9,9.3 1,9.8 -3,9.2 C-8.5,8.2 -10.8,5.5 -11,1 Z" fill="#d7d7d4" stroke="#c2c2bf" stroke-width="0.4"/><ellipse cx="-1" cy="-1" rx="7" ry="5.5" fill="#dfdfdc" opacity="0.8"/><ellipse cx="10.5" cy="-8.4" rx="2.5" ry="3.1" transform="rotate(-15 10.5 -8.4)" fill="#e2c4a4" stroke="#cfa884" stroke-width="0.35"/><ellipse cx="16.2" cy="-4.4" rx="2.6" ry="3.2" transform="rotate(-25 16.2 -4.4)" fill="#e2c4a4" stroke="#cfa884" stroke-width="0.35"/><circle cx="10.8" cy="3.1" r="0.55" fill="#333"/><circle cx="14" cy="3.1" r="0.55" fill="#333"/><circle cx="25.6" cy="0.2" r="1.15" fill="#111"/><path d="M-0.5,9.3 l2.8,1.1 M11,8.6 l3,1.2" stroke="#444" stroke-width="0.9"/></g>
<text x="452.40" y="248.10" font-size="6.8" fill="#2e2e2e" stroke="#2e2e2e" stroke-width="0.1" textLength="9.30" lengthAdjust="spacingAndGlyphs" >WT</text>
<line x1="467.60" y1="241.00" x2="467.60" y2="251.90" stroke="#2a2a2a" stroke-width="1.05" />
<path d="M467.60,256.00 L465.30,251.40 L469.90,251.40 Z" fill="#111"/>
<text x="471.60" y="248.10" font-size="6.8" fill="#2e2e2e" stroke="#2e2e2e" stroke-width="0.1" textLength="30.30" lengthAdjust="spacingAndGlyphs" >(C57/BL6)</text>
<ellipse cx="467.40" cy="268.30" rx="16.4" ry="8.4" fill="#fcf4ea" stroke="#6e6e6e" stroke-width="0.7"/>
<path d="M451.50,268.90 A15.899999999999999,7.5 0 0 0 483.30,268.90" fill="none" stroke="#f0d3aa" stroke-width="1.8"/>
<ellipse cx="467.40" cy="267.80" rx="13.80" ry="4.54" fill="#30a040" stroke="#2a7a30" stroke-width="0.3"/>
<g fill="#1b6e27"><circle cx="456.74" cy="266.59" r="0.55"/><circle cx="459.95" cy="265.01" r="0.55"/><circle cx="464.85" cy="265.36" r="0.55"/><circle cx="470.99" cy="266.10" r="0.55"/><circle cx="470.73" cy="268.78" r="0.55"/><circle cx="477.55" cy="267.24" r="0.55"/><circle cx="468.28" cy="266.77" r="0.55"/><circle cx="468.18" cy="264.32" r="0.55"/><circle cx="470.38" cy="267.23" r="0.55"/><circle cx="466.78" cy="264.34" r="0.55"/><circle cx="472.22" cy="267.77" r="0.55"/><circle cx="479.74" cy="267.87" r="0.55"/><circle cx="471.28" cy="266.62" r="0.55"/><circle cx="469.81" cy="265.86" r="0.55"/><circle cx="473.01" cy="267.74" r="0.55"/><circle cx="459.61" cy="269.67" r="0.55"/><circle cx="467.67" cy="269.03" r="0.55"/><circle cx="463.17" cy="267.25" r="0.55"/><circle cx="468.40" cy="271.07" r="0.55"/><circle cx="477.19" cy="267.18" r="0.55"/><circle cx="477.17" cy="267.11" r="0.55"/><circle cx="460.67" cy="266.67" r="0.55"/><circle cx="473.13" cy="267.97" r="0.55"/><circle cx="476.54" cy="269.99" r="0.55"/><circle cx="478.05" cy="269.19" r="0.55"/><circle cx="474.49" cy="269.22" r="0.55"/><circle cx="479.10" cy="268.72" r="0.55"/><circle cx="458.34" cy="265.44" r="0.55"/><circle cx="469.63" cy="270.53" r="0.55"/><circle cx="469.45" cy="266.07" r="0.55"/></g>
<text x="471.40" y="283.50" font-size="6.8" text-anchor="middle" fill="#2e2e2e" stroke="#2e2e2e" stroke-width="0.1" textLength="40.10" lengthAdjust="spacingAndGlyphs" >Leukemic BM</text>
<line x1="468.50" y1="285.50" x2="468.50" y2="295.50" stroke="#2a2a2a" stroke-width="1.05" />
<path d="M468.50,299.60 L466.20,295.00 L470.80,295.00 Z" fill="#111"/>
<text x="429.50" y="303.50" font-size="6.8" fill="#2e2e2e" stroke="#2e2e2e" stroke-width="0.1" textLength="28.90" lengthAdjust="spacingAndGlyphs" >2<tspan font-size="4.2" dy="-2.4">nd</tspan><tspan dy="2.4"> round</tspan></text>
<g transform="translate(470.50,314.20) scale(1.0)"><path d="M-10,3 C-15,1.5 -21.5,2.5 -21.5,6.5 C-21.5,10 -13,9.5 -1,9.8" fill="none" stroke="#e6b894" stroke-width="1.0"/><path d="M-11,1 C-11.5,-6 -5,-9.6 1,-9.6 C7,-9.6 11,-6 15,-3 C18.5,-0.8 22,-0.2 25,0.2 C22,2.5 18.5,5 14,7 C9,9.3 1,9.8 -3,9.2 C-8.5,8.2 -10.8,5.5 -11,1 Z" fill="#d7d7d4" stroke="#c2c2bf" stroke-width="0.4"/><ellipse cx="-1" cy="-1" rx="7" ry="5.5" fill="#dfdfdc" opacity="0.8"/><ellipse cx="10.5" cy="-8.4" rx="2.5" ry="3.1" transform="rotate(-15 10.5 -8.4)" fill="#e2c4a4" stroke="#cfa884" stroke-width="0.35"/><ellipse cx="16.2" cy="-4.4" rx="2.6" ry="3.2" transform="rotate(-25 16.2 -4.4)" fill="#e2c4a4" stroke="#cfa884" stroke-width="0.35"/><circle cx="10.8" cy="3.1" r="0.55" fill="#333"/><circle cx="14" cy="3.1" r="0.55" fill="#333"/><circle cx="25.6" cy="0.2" r="1.15" fill="#111"/><path d="M-0.5,9.3 l2.8,1.1 M11,8.6 l3,1.2" stroke="#444" stroke-width="0.9"/></g>
<text x="452.00" y="339.30" font-size="6.8" fill="#2e2e2e" stroke="#2e2e2e" stroke-width="0.1" textLength="9.50" lengthAdjust="spacingAndGlyphs" >WT</text>
<line x1="469.30" y1="332.40" x2="469.30" y2="344.10" stroke="#2a2a2a" stroke-width="1.05" />
<path d="M469.30,348.20 L467.00,343.60 L471.60,343.60 Z" fill="#111"/>
<text x="471.60" y="339.30" font-size="6.8" fill="#2e2e2e" stroke="#2e2e2e" stroke-width="0.1" textLength="29.70" lengthAdjust="spacingAndGlyphs" >(C57/BL6)</text>
<ellipse cx="472.00" cy="360.40" rx="16.5" ry="8.4" fill="#fcf4ea" stroke="#6e6e6e" stroke-width="0.7"/>
<path d="M456.00,361.00 A16.0,7.5 0 0 0 488.00,361.00" fill="none" stroke="#f0d3aa" stroke-width="1.8"/>
<ellipse cx="472.00" cy="359.90" rx="13.90" ry="4.54" fill="#30a040" stroke="#2a7a30" stroke-width="0.3"/>
<g fill="#1b6e27"><circle cx="474.87" cy="359.64" r="0.55"/><circle cx="476.14" cy="359.80" r="0.55"/><circle cx="479.60" cy="358.78" r="0.55"/><circle cx="467.28" cy="359.86" r="0.55"/><circle cx="469.61" cy="359.54" r="0.55"/><circle cx="469.28" cy="359.56" r="0.55"/><circle cx="464.93" cy="357.64" r="0.55"/><circle cx="462.34" cy="358.87" r="0.55"/><circle cx="476.60" cy="363.06" r="0.55"/><circle cx="465.82" cy="361.19" r="0.55"/><circle cx="476.33" cy="359.42" r="0.55"/><circle cx="469.55" cy="361.85" r="0.55"/><circle cx="467.22" cy="361.82" r="0.55"/><circle cx="461.44" cy="361.12" r="0.55"/><circle cx="474.46" cy="361.44" r="0.55"/><circle cx="475.27" cy="360.05" r="0.55"/><circle cx="473.79" cy="360.72" r="0.55"/><circle cx="464.31" cy="358.44" r="0.55"/><circle cx="474.48" cy="359.59" r="0.55"/><circle cx="477.21" cy="361.22" r="0.55"/><circle cx="477.63" cy="361.69" r="0.55"/><circle cx="482.70" cy="361.22" r="0.55"/><circle cx="460.99" cy="359.61" r="0.55"/><circle cx="467.62" cy="359.57" r="0.55"/><circle cx="462.05" cy="358.52" r="0.55"/><circle cx="464.91" cy="360.09" r="0.55"/><circle cx="467.70" cy="361.81" r="0.55"/><circle cx="469.40" cy="357.87" r="0.55"/><circle cx="482.64" cy="359.08" r="0.55"/><circle cx="481.19" cy="362.29" r="0.55"/></g>
<text x="471.10" y="375.70" font-size="6.8" text-anchor="middle" fill="#2e2e2e" stroke="#2e2e2e" stroke-width="0.1" textLength="39.80" lengthAdjust="spacingAndGlyphs" >Leukemic BM</text>
<path d="M457.2,354 L411.5,316.2 L386.5,316.2" fill="none" stroke="#2a2a2a" stroke-width="1.2"/>
<path d="M382.1,316.2 L387.6,313.8 L387.6,318.6 Z" fill="#111"/>
<line x1="347.50" y1="278.80" x2="347.50" y2="289.90" stroke="#2a2a2a" stroke-width="1.05" />
<path d="M347.50,294.00 L345.20,289.40 L349.80,289.40 Z" fill="#111"/>
<text x="347.30" y="302.00" font-size="6.8" text-anchor="middle" fill="#2e2e2e" stroke="#2e2e2e" stroke-width="0.1" textLength="30.90" lengthAdjust="spacingAndGlyphs" >CFU-assay</text>
<rect x="323.80" y="306.20" width="45.40" height="27.80" fill="#fff" stroke="#cfcfcf" stroke-width="0.5" />
<rect x="325.90" y="304.90" width="43.10" height="26.70" fill="#fff" stroke="#d2d2d2" stroke-width="0.5" />
<ellipse cx="334.2" cy="312.0" rx="6.3" ry="4.5" fill="#f7e2c8" stroke="#b4b4c2" stroke-width="0.45"/>
<ellipse cx="334.2" cy="312.3" rx="4.9" ry="2.7" fill="#f2cf9c" stroke="#c08850" stroke-width="0.6"/>
<ellipse cx="334.2" cy="312.3" rx="2.8" ry="1.3" fill="#f8e6c4" stroke="#d7a56c" stroke-width="0.35"/>
<ellipse cx="347.8" cy="312.0" rx="6.3" ry="4.5" fill="#f7e2c8" stroke="#b4b4c2" stroke-width="0.45"/>
<ellipse cx="347.8" cy="312.3" rx="4.9" ry="2.7" fill="#f2cf9c" stroke="#c08850" stroke-width="0.6"/>
<ellipse cx="347.8" cy="312.3" rx="2.8" ry="1.3" fill="#f8e6c4" stroke="#d7a56c" stroke-width="0.35"/>
<ellipse cx="361.4" cy="312.0" rx="6.3" ry="4.5" fill="#f7e2c8" stroke="#b4b4c2" stroke-width="0.45"/>
<ellipse cx="361.4" cy="312.3" rx="4.9" ry="2.7" fill="#f2cf9c" stroke="#c08850" stroke-width="0.6"/>
<ellipse cx="361.4" cy="312.3" rx="2.8" ry="1.3" fill="#f8e6c4" stroke="#d7a56c" stroke-width="0.35"/>
<ellipse cx="334.2" cy="322.0" rx="6.3" ry="4.5" fill="#f7e2c8" stroke="#b4b4c2" stroke-width="0.45"/>
<ellipse cx="334.2" cy="322.3" rx="4.9" ry="2.7" fill="#f2cf9c" stroke="#c08850" stroke-width="0.6"/>
<ellipse cx="334.2" cy="322.3" rx="2.8" ry="1.3" fill="#f8e6c4" stroke="#d7a56c" stroke-width="0.35"/>
<ellipse cx="347.8" cy="322.0" rx="6.3" ry="4.5" fill="#f7e2c8" stroke="#b4b4c2" stroke-width="0.45"/>
<ellipse cx="347.8" cy="322.3" rx="4.9" ry="2.7" fill="#f2cf9c" stroke="#c08850" stroke-width="0.6"/>
<ellipse cx="347.8" cy="322.3" rx="2.8" ry="1.3" fill="#f8e6c4" stroke="#d7a56c" stroke-width="0.35"/>
<ellipse cx="361.4" cy="322.0" rx="6.3" ry="4.5" fill="#f7e2c8" stroke="#b4b4c2" stroke-width="0.45"/>
<ellipse cx="361.4" cy="322.3" rx="4.9" ry="2.7" fill="#f2cf9c" stroke="#c08850" stroke-width="0.6"/>
<ellipse cx="361.4" cy="322.3" rx="2.8" ry="1.3" fill="#f8e6c4" stroke="#d7a56c" stroke-width="0.35"/>
<text x="349.80" y="340.10" font-size="6.8" text-anchor="middle" fill="#2e2e2e" stroke="#2e2e2e" stroke-width="0.1" textLength="34.40" lengthAdjust="spacingAndGlyphs" >+ treatment</text>
<line x1="347.50" y1="342.90" x2="347.50" y2="361.90" stroke="#2a2a2a" stroke-width="1.05" />
<path d="M347.50,366.00 L345.20,361.40 L349.80,361.40 Z" fill="#111"/>
<text x="348.60" y="354.10" font-size="6.8" fill="#2e2e2e" stroke="#2e2e2e" stroke-width="0.1" textLength="22.80" lengthAdjust="spacingAndGlyphs" >14 days</text>
<text x="347.40" y="372.50" font-size="6.8" text-anchor="middle" fill="#2e2e2e" stroke="#2e2e2e" stroke-width="0.1" textLength="48.80" lengthAdjust="spacingAndGlyphs" >Colony counting</text>
<text x="13.80" y="408.10" font-size="11.6" font-weight="bold" fill="#111" stroke="#111" stroke-width="0.1" >E</text>
<line x1="59.60" y1="469.37" x2="116.90" y2="469.37" stroke="#1a1a1a" stroke-width="1.0" stroke-dasharray="0.8 1.0" />
<rect x="62.10" y="469.37" width="9.80" height="79.13" fill="#3f63a1" />
<rect x="62.40" y="469.67" width="9.20" height="78.83" fill="none" stroke="#335184" stroke-width="0.6"/>
<line x1="67.00" y1="469.37" x2="67.00" y2="461.46" stroke="#333" stroke-width="0.8" />
<line x1="64.70" y1="461.46" x2="69.30" y2="461.46" stroke="#333" stroke-width="0.8" />
<rect x="76.75" y="471.74" width="9.80" height="76.76" fill="#b6bcd7" />
<rect x="77.05" y="472.04" width="9.20" height="76.46" fill="none" stroke="#959ab0" stroke-width="0.6"/>
<rect x="91.40" y="469.37" width="9.80" height="79.13" fill="#d8433e" />
<rect x="91.70" y="469.67" width="9.20" height="78.83" fill="none" stroke="#b13632" stroke-width="0.6"/>
<line x1="96.30" y1="469.37" x2="96.30" y2="467.00" stroke="#333" stroke-width="0.8" />
<line x1="94.00" y1="467.00" x2="98.60" y2="467.00" stroke="#333" stroke-width="0.8" />
<rect x="106.05" y="476.49" width="9.80" height="72.01" fill="#f1bca9" />
<rect x="106.35" y="476.79" width="9.20" height="71.71" fill="none" stroke="#c59a8a" stroke-width="0.6"/>
<line x1="110.95" y1="476.49" x2="110.95" y2="473.33" stroke="#333" stroke-width="0.8" />
<line x1="108.65" y1="473.33" x2="113.25" y2="473.33" stroke="#333" stroke-width="0.8" />
<line x1="59.60" y1="426.80" x2="59.60" y2="548.80" stroke="#1e1e1e" stroke-width="0.9" />
<line x1="59.15" y1="548.40" x2="116.90" y2="548.40" stroke="#1e1e1e" stroke-width="0.9" />
<line x1="57.00" y1="548.50" x2="59.60" y2="548.50" stroke="#1e1e1e" stroke-width="0.8" />
<text x="54.00" y="550.90" font-size="6.6" text-anchor="end" fill="#2e2e2e" stroke="#2e2e2e" stroke-width="0.1" >0.0</text>
<line x1="57.00" y1="508.94" x2="59.60" y2="508.94" stroke="#1e1e1e" stroke-width="0.8" />
<text x="54.00" y="511.33" font-size="6.6" text-anchor="end" fill="#2e2e2e" stroke="#2e2e2e" stroke-width="0.1" >0.5</text>
<line x1="57.00" y1="469.37" x2="59.60" y2="469.37" stroke="#1e1e1e" stroke-width="0.8" />
<text x="54.00" y="471.77" font-size="6.6" text-anchor="end" fill="#2e2e2e" stroke="#2e2e2e" stroke-width="0.1" >1.0</text>
<line x1="57.00" y1="429.81" x2="59.60" y2="429.81" stroke="#1e1e1e" stroke-width="0.8" />
<text x="54.00" y="432.20" font-size="6.6" text-anchor="end" fill="#2e2e2e" stroke="#2e2e2e" stroke-width="0.1" >1.5</text>
<line x1="67.00" y1="548.40" x2="67.00" y2="550.60" stroke="#1e1e1e" stroke-width="0.7" />
<line x1="81.65" y1="548.40" x2="81.65" y2="550.60" stroke="#1e1e1e" stroke-width="0.7" />
<line x1="96.30" y1="548.40" x2="96.30" y2="550.60" stroke="#1e1e1e" stroke-width="0.7" />
<line x1="110.95" y1="548.40" x2="110.95" y2="550.60" stroke="#1e1e1e" stroke-width="0.7" />
<text x="38.80" y="487.40" font-size="8.2" text-anchor="middle" fill="#2e2e2e" stroke="#2e2e2e" stroke-width="0.1" textLength="72.70" lengthAdjust="spacingAndGlyphs" transform="rotate(-90 38.80 487.40)" >Relative colony number</text>
<rect x="65.60" y="418.20" width="9.00" height="3.40" fill="#3f63a1" />
<rect x="65.60" y="428.20" width="9.00" height="3.40" fill="#d8433e" />
<text x="78.80" y="422.20" font-size="7.3" fill="#2e2e2e" stroke="#2e2e2e" stroke-width="0.1" textLength="52.20" lengthAdjust="spacingAndGlyphs" ><tspan font-style="italic">GFI1-36S</tspan> Lin–</text>
<text x="78.80" y="432.30" font-size="7.3" fill="#2e2e2e" stroke="#2e2e2e" stroke-width="0.1" textLength="53.60" lengthAdjust="spacingAndGlyphs" ><tspan font-style="italic">GFI1-36N</tspan> Lin–</text>
<text x="7.20" y="559.80" font-size="6.8" fill="#2e2e2e" stroke="#2e2e2e" stroke-width="0.1" textLength="20.50" lengthAdjust="spacingAndGlyphs" >DMSO</text>
<text x="7.20" y="570.80" font-size="6.8" fill="#2e2e2e" stroke="#2e2e2e" stroke-width="0.1" textLength="46.50" lengthAdjust="spacingAndGlyphs" >TMZ (50 µg/ml)</text>
<text x="67.00" y="559.60" font-size="5.6" text-anchor="middle" fill="#2e2e2e" stroke="#2e2e2e" stroke-width="0.1" >+</text>
<text x="81.65" y="570.70" font-size="5.6" text-anchor="middle" fill="#2e2e2e" stroke="#2e2e2e" stroke-width="0.1" >+</text>
<text x="96.30" y="559.60" font-size="5.6" text-anchor="middle" fill="#2e2e2e" stroke="#2e2e2e" stroke-width="0.1" >+</text>
<text x="110.95" y="570.70" font-size="5.6" text-anchor="middle" fill="#2e2e2e" stroke="#2e2e2e" stroke-width="0.1" >+</text>
<text x="148.40" y="408.10" font-size="11.6" font-weight="bold" fill="#111" stroke="#111" stroke-width="0.1" >F</text>
<line x1="199.70" y1="469.37" x2="257.00" y2="469.37" stroke="#1a1a1a" stroke-width="1.0" stroke-dasharray="0.8 1.0" />
<rect x="202.20" y="469.37" width="9.80" height="79.13" fill="#174f8c" />
<rect x="202.50" y="469.67" width="9.20" height="78.83" fill="none" stroke="#124072" stroke-width="0.6"/>
<rect x="216.85" y="469.37" width="9.80" height="79.13" fill="#8c9fc4" />
<rect x="217.15" y="469.67" width="9.20" height="78.83" fill="none" stroke="#7282a0" stroke-width="0.6"/>
<line x1="221.75" y1="469.37" x2="221.75" y2="457.90" stroke="#333" stroke-width="0.8" />
<line x1="219.45" y1="457.90" x2="224.05" y2="457.90" stroke="#333" stroke-width="0.8" />
<rect x="231.50" y="469.37" width="9.80" height="79.13" fill="#c8102e" />
<rect x="231.80" y="469.67" width="9.20" height="78.83" fill="none" stroke="#a40d25" stroke-width="0.6"/>
<rect x="246.15" y="493.90" width="9.80" height="54.60" fill="#e8907c" />
<rect x="246.45" y="494.20" width="9.20" height="54.30" fill="none" stroke="#be7665" stroke-width="0.6"/>
<line x1="251.05" y1="493.90" x2="251.05" y2="489.15" stroke="#333" stroke-width="0.8" />
<line x1="248.75" y1="489.15" x2="253.35" y2="489.15" stroke="#333" stroke-width="0.8" />
<line x1="199.70" y1="426.80" x2="199.70" y2="548.80" stroke="#1e1e1e" stroke-width="0.9" />
<line x1="199.25" y1="548.40" x2="257.00" y2="548.40" stroke="#1e1e1e" stroke-width="0.9" />
<line x1="197.10" y1="548.50" x2="199.70" y2="548.50" stroke="#1e1e1e" stroke-width="0.8" />
<text x="194.10" y="550.90" font-size="6.6" text-anchor="end" fill="#2e2e2e" stroke="#2e2e2e" stroke-width="0.1" >0.0</text>
<line x1="197.10" y1="508.94" x2="199.70" y2="508.94" stroke="#1e1e1e" stroke-width="0.8" />
<text x="194.10" y="511.33" font-size="6.6" text-anchor="end" fill="#2e2e2e" stroke="#2e2e2e" stroke-width="0.1" >0.5</text>
<line x1="197.10" y1="469.37" x2="199.70" y2="469.37" stroke="#1e1e1e" stroke-width="0.8" />
<text x="194.10" y="471.77" font-size="6.6" text-anchor="end" fill="#2e2e2e" stroke="#2e2e2e" stroke-width="0.1" >1.0</text>
<line x1="197.10" y1="429.81" x2="199.70" y2="429.81" stroke="#1e1e1e" stroke-width="0.8" />
<text x="194.10" y="432.20" font-size="6.6" text-anchor="end" fill="#2e2e2e" stroke="#2e2e2e" stroke-width="0.1" >1.5</text>
<line x1="207.10" y1="548.40" x2="207.10" y2="550.60" stroke="#1e1e1e" stroke-width="0.7" />
<line x1="221.75" y1="548.40" x2="221.75" y2="550.60" stroke="#1e1e1e" stroke-width="0.7" />
<line x1="236.40" y1="548.40" x2="236.40" y2="550.60" stroke="#1e1e1e" stroke-width="0.7" />
<line x1="251.05" y1="548.40" x2="251.05" y2="550.60" stroke="#1e1e1e" stroke-width="0.7" />
<text x="178.80" y="487.40" font-size="8.2" text-anchor="middle" fill="#2e2e2e" stroke="#2e2e2e" stroke-width="0.1" textLength="72.70" lengthAdjust="spacingAndGlyphs" transform="rotate(-90 178.80 487.40)" >Relative colony number</text>
<rect x="206.00" y="418.20" width="9.00" height="3.40" fill="#174f8c" />
<rect x="206.00" y="428.20" width="9.00" height="3.40" fill="#c8102e" />
<text x="218.80" y="422.20" font-size="7.3" fill="#2e2e2e" stroke="#2e2e2e" stroke-width="0.1" textLength="71.20" lengthAdjust="spacingAndGlyphs" ><tspan font-style="italic">GFI1-36S-MLL-AF9</tspan></text>
<text x="218.80" y="432.30" font-size="7.3" fill="#2e2e2e" stroke="#2e2e2e" stroke-width="0.1" textLength="72.40" lengthAdjust="spacingAndGlyphs" ><tspan font-style="italic">GFI1-36N-MLL-AF9</tspan></text>
<text x="147.20" y="559.80" font-size="6.8" fill="#2e2e2e" stroke="#2e2e2e" stroke-width="0.1" textLength="20.50" lengthAdjust="spacingAndGlyphs" >DMSO</text>
<text x="147.20" y="570.80" font-size="6.8" fill="#2e2e2e" stroke="#2e2e2e" stroke-width="0.1" textLength="46.50" lengthAdjust="spacingAndGlyphs" >TMZ (50 µg/ml)</text>
<text x="207.10" y="559.60" font-size="5.6" text-anchor="middle" fill="#2e2e2e" stroke="#2e2e2e" stroke-width="0.1" >+</text>
<text x="221.75" y="570.70" font-size="5.6" text-anchor="middle" fill="#2e2e2e" stroke="#2e2e2e" stroke-width="0.1" >+</text>
<text x="236.40" y="559.60" font-size="5.6" text-anchor="middle" fill="#2e2e2e" stroke="#2e2e2e" stroke-width="0.1" >+</text>
<text x="251.05" y="570.70" font-size="5.6" text-anchor="middle" fill="#2e2e2e" stroke="#2e2e2e" stroke-width="0.1" >+</text>
<text x="236.65" y="443.80" font-size="7.0" text-anchor="middle" fill="#333" stroke="#333" stroke-width="0.1" >*</text>
<line x1="221.30" y1="443.30" x2="251.00" y2="443.30" stroke="#1e1e1e" stroke-width="0.9" />
<text x="233.50" y="450.50" font-size="6.5" text-anchor="middle" fill="#2e2e2e" stroke="#2e2e2e" stroke-width="0.1" textLength="24.40" lengthAdjust="spacingAndGlyphs" ><tspan font-style="italic">P</tspan> = .0174</text>
<text x="247.70" y="460.10" font-size="7.0" text-anchor="middle" fill="#333" stroke="#333" stroke-width="0.1" textLength="7.65" lengthAdjust="spacingAndGlyphs" >***</text>
<line x1="241.40" y1="459.60" x2="253.00" y2="459.60" stroke="#1e1e1e" stroke-width="0.9" />
<text x="246.80" y="466.80" font-size="6.5" text-anchor="middle" fill="#2e2e2e" stroke="#2e2e2e" stroke-width="0.1" textLength="27.50" lengthAdjust="spacingAndGlyphs" ><tspan font-style="italic">P</tspan> = .0005</text>
<text x="308.60" y="408.10" font-size="11.6" font-weight="bold" fill="#111" stroke="#111" stroke-width="0.1" >G</text>
<line x1="360.80" y1="469.37" x2="418.10" y2="469.37" stroke="#1a1a1a" stroke-width="1.0" stroke-dasharray="0.8 1.0" />
<rect x="363.30" y="469.37" width="9.80" height="79.13" fill="#174f8c" />
<rect x="363.60" y="469.67" width="9.20" height="78.83" fill="none" stroke="#124072" stroke-width="0.6"/>
<line x1="368.20" y1="469.37" x2="368.20" y2="461.46" stroke="#333" stroke-width="0.8" />
<line x1="365.90" y1="461.46" x2="370.50" y2="461.46" stroke="#333" stroke-width="0.8" />
<rect x="377.95" y="481.24" width="9.80" height="67.26" fill="#8c9fc4" />
<rect x="378.25" y="481.54" width="9.20" height="66.96" fill="none" stroke="#7282a0" stroke-width="0.6"/>
<line x1="382.85" y1="481.24" x2="382.85" y2="475.70" stroke="#333" stroke-width="0.8" />
<line x1="380.55" y1="475.70" x2="385.15" y2="475.70" stroke="#333" stroke-width="0.8" />
<rect x="392.60" y="469.37" width="9.80" height="79.13" fill="#c8102e" />
<rect x="392.90" y="469.67" width="9.20" height="78.83" fill="none" stroke="#a40d25" stroke-width="0.6"/>
<line x1="397.50" y1="469.37" x2="397.50" y2="467.00" stroke="#333" stroke-width="0.8" />
<line x1="395.20" y1="467.00" x2="399.80" y2="467.00" stroke="#333" stroke-width="0.8" />
<rect x="407.25" y="526.34" width="9.80" height="22.16" fill="#e8907c" />
<rect x="407.55" y="526.64" width="9.20" height="21.86" fill="none" stroke="#be7665" stroke-width="0.6"/>
<line x1="412.15" y1="526.34" x2="412.15" y2="514.47" stroke="#333" stroke-width="0.8" />
<line x1="409.85" y1="514.47" x2="414.45" y2="514.47" stroke="#333" stroke-width="0.8" />
<line x1="360.80" y1="426.80" x2="360.80" y2="548.80" stroke="#1e1e1e" stroke-width="0.9" />
<line x1="360.35" y1="548.40" x2="418.10" y2="548.40" stroke="#1e1e1e" stroke-width="0.9" />
<line x1="358.20" y1="548.50" x2="360.80" y2="548.50" stroke="#1e1e1e" stroke-width="0.8" />
<text x="355.20" y="550.90" font-size="6.6" text-anchor="end" fill="#2e2e2e" stroke="#2e2e2e" stroke-width="0.1" >0.0</text>
<line x1="358.20" y1="508.94" x2="360.80" y2="508.94" stroke="#1e1e1e" stroke-width="0.8" />
<text x="355.20" y="511.33" font-size="6.6" text-anchor="end" fill="#2e2e2e" stroke="#2e2e2e" stroke-width="0.1" >0.5</text>
<line x1="358.20" y1="469.37" x2="360.80" y2="469.37" stroke="#1e1e1e" stroke-width="0.8" />
<text x="355.20" y="471.77" font-size="6.6" text-anchor="end" fill="#2e2e2e" stroke="#2e2e2e" stroke-width="0.1" >1.0</text>
<line x1="358.20" y1="429.81" x2="360.80" y2="429.81" stroke="#1e1e1e" stroke-width="0.8" />
<text x="355.20" y="432.20" font-size="6.6" text-anchor="end" fill="#2e2e2e" stroke="#2e2e2e" stroke-width="0.1" >1.5</text>
<line x1="368.20" y1="548.40" x2="368.20" y2="550.60" stroke="#1e1e1e" stroke-width="0.7" />
<line x1="382.85" y1="548.40" x2="382.85" y2="550.60" stroke="#1e1e1e" stroke-width="0.7" />
<line x1="397.50" y1="548.40" x2="397.50" y2="550.60" stroke="#1e1e1e" stroke-width="0.7" />
<line x1="412.15" y1="548.40" x2="412.15" y2="550.60" stroke="#1e1e1e" stroke-width="0.7" />
<text x="340.00" y="487.40" font-size="8.2" text-anchor="middle" fill="#2e2e2e" stroke="#2e2e2e" stroke-width="0.1" textLength="72.70" lengthAdjust="spacingAndGlyphs" transform="rotate(-90 340.00 487.40)" >Relative colony number</text>
<rect x="367.00" y="418.20" width="9.00" height="3.40" fill="#174f8c" />
<rect x="367.00" y="428.20" width="9.00" height="3.40" fill="#c8102e" />
<text x="379.50" y="422.20" font-size="7.3" fill="#2e2e2e" stroke="#2e2e2e" stroke-width="0.1" textLength="103.00" lengthAdjust="spacingAndGlyphs" ><tspan font-style="italic">GFI1-36SxNUP98-HOXD13</tspan></text>
<text x="379.50" y="432.30" font-size="7.3" fill="#2e2e2e" stroke="#2e2e2e" stroke-width="0.1" textLength="104.80" lengthAdjust="spacingAndGlyphs" ><tspan font-style="italic">GFI1-36NxNUP98-HOXD13</tspan></text>
<text x="307.70" y="559.80" font-size="6.8" fill="#2e2e2e" stroke="#2e2e2e" stroke-width="0.1" textLength="20.50" lengthAdjust="spacingAndGlyphs" >DMSO</text>
<text x="307.70" y="570.80" font-size="6.8" fill="#2e2e2e" stroke="#2e2e2e" stroke-width="0.1" textLength="46.50" lengthAdjust="spacingAndGlyphs" >TMZ (50 µg/ml)</text>
<text x="368.20" y="559.60" font-size="5.6" text-anchor="middle" fill="#2e2e2e" stroke="#2e2e2e" stroke-width="0.1" >+</text>
<text x="382.85" y="570.70" font-size="5.6" text-anchor="middle" fill="#2e2e2e" stroke="#2e2e2e" stroke-width="0.1" >+</text>
<text x="397.50" y="559.60" font-size="5.6" text-anchor="middle" fill="#2e2e2e" stroke="#2e2e2e" stroke-width="0.1" >+</text>
<text x="412.15" y="570.70" font-size="5.6" text-anchor="middle" fill="#2e2e2e" stroke="#2e2e2e" stroke-width="0.1" >+</text>
<text x="397.65" y="446.00" font-size="7.0" text-anchor="middle" fill="#333" stroke="#333" stroke-width="0.1" textLength="5.10" lengthAdjust="spacingAndGlyphs" >**</text>
<line x1="382.80" y1="445.50" x2="411.50" y2="445.50" stroke="#1e1e1e" stroke-width="0.9" />
<text x="397.80" y="452.70" font-size="6.5" text-anchor="middle" fill="#2e2e2e" stroke="#2e2e2e" stroke-width="0.1" textLength="29.20" lengthAdjust="spacingAndGlyphs" ><tspan font-style="italic">P</tspan> = .0013</text>
<text x="406.05" y="459.70" font-size="7.0" text-anchor="middle" fill="#333" stroke="#333" stroke-width="0.1" textLength="5.10" lengthAdjust="spacingAndGlyphs" >**</text>
<line x1="398.30" y1="459.20" x2="412.80" y2="459.20" stroke="#1e1e1e" stroke-width="0.9" />
<text x="401.90" y="466.40" font-size="6.5" fill="#2e2e2e" stroke="#2e2e2e" stroke-width="0.1" textLength="28.00" lengthAdjust="spacingAndGlyphs" ><tspan font-style="italic">P</tspan> = .0039</text>
<text x="162.00" y="599.50" font-size="11.6" font-weight="bold" fill="#111" stroke="#111" stroke-width="0.1" >H</text>
<text x="173.00" y="616.10" font-size="7.8" font-style="italic" fill="#2e2e2e" stroke="#2e2e2e" stroke-width="0.1" textLength="22.40" lengthAdjust="spacingAndGlyphs" >GFI1–</text>
<text x="219.20" y="616.10" font-size="7.9" text-anchor="middle" font-style="italic" fill="#2e2e2e" stroke="#2e2e2e" stroke-width="0.1" textLength="14.10" lengthAdjust="spacingAndGlyphs" >36S</text>
<text x="253.50" y="616.10" font-size="7.9" text-anchor="middle" font-style="italic" fill="#2e2e2e" stroke="#2e2e2e" stroke-width="0.1" textLength="14.10" lengthAdjust="spacingAndGlyphs" >36N</text>
<text x="292.20" y="616.10" font-size="7.9" text-anchor="middle" font-style="italic" fill="#2e2e2e" stroke="#2e2e2e" stroke-width="0.1" textLength="14.10" lengthAdjust="spacingAndGlyphs" >36S</text>
<text x="326.80" y="616.10" font-size="7.9" text-anchor="middle" font-style="italic" fill="#2e2e2e" stroke="#2e2e2e" stroke-width="0.1" textLength="14.10" lengthAdjust="spacingAndGlyphs" >36N</text>
<text x="180.00" y="627.60" font-size="7.8" fill="#2e2e2e" stroke="#2e2e2e" stroke-width="0.1" textLength="13.80" lengthAdjust="spacingAndGlyphs" >TMZ</text>
<text x="219.80" y="628.10" font-size="7.4" text-anchor="middle" fill="#2e2e2e" stroke="#2e2e2e" stroke-width="0.1" >–</text>
<text x="253.80" y="628.10" font-size="7.4" text-anchor="middle" fill="#2e2e2e" stroke="#2e2e2e" stroke-width="0.1" >–</text>
<text x="291.70" y="628.10" font-size="7.4" text-anchor="middle" fill="#2e2e2e" stroke="#2e2e2e" stroke-width="0.1" >+</text>
<text x="326.30" y="628.10" font-size="7.4" text-anchor="middle" fill="#2e2e2e" stroke="#2e2e2e" stroke-width="0.1" >+</text>
<text x="167.80" y="645.90" font-size="8.2" fill="#2e2e2e" stroke="#2e2e2e" stroke-width="0.1" textLength="25.70" lengthAdjust="spacingAndGlyphs" >MGMT</text>
<text x="177.70" y="671.40" font-size="8.2" fill="#2e2e2e" stroke="#2e2e2e" stroke-width="0.1" textLength="16.70" lengthAdjust="spacingAndGlyphs" >VCP</text>
<defs>
<filter id="bl1" x="-30%" y="-60%" width="160%" height="220%"><feGaussianBlur stdDeviation="1.8 1.5"/></filter>
<filter id="bl2" x="-30%" y="-60%" width="160%" height="220%"><feGaussianBlur stdDeviation="0.8 0.6"/></filter>
<clipPath id="cp1"><rect x="197.9" y="640.2" width="150.8" height="16.8"/></clipPath>
</defs>
<rect x="197.50" y="639.80" width="151.60" height="17.50" fill="#f8f8f8" />
<defs><linearGradient id="g1" x1="0" y1="0" x2="0" y2="1"><stop offset="0" stop-color="#151515"/><stop offset="0.45" stop-color="#3a3a3a"/><stop offset="1" stop-color="#9a9a9a"/></linearGradient><linearGradient id="g2" x1="0" y1="0" x2="0" y2="1"><stop offset="0" stop-color="#555"/><stop offset="0.5" stop-color="#777"/><stop offset="1" stop-color="#bbb"/></linearGradient><linearGradient id="g3" x1="0" y1="0" x2="0" y2="1"><stop offset="0" stop-color="#0c0c0c"/><stop offset="0.6" stop-color="#161616"/><stop offset="1" stop-color="#3a3a3a"/></linearGradient><linearGradient id="g4" x1="0" y1="0" x2="0" y2="1"><stop offset="0" stop-color="#c4c4c4"/><stop offset="0.5" stop-color="#a2a2a2"/><stop offset="1" stop-color="#cccccc"/></linearGradient></defs>
<g clip-path="url(#cp1)"><g filter="url(#bl1)"><rect x="211.5" y="640.5" width="29" height="12" rx="3" fill="url(#g1)"/><ellipse cx="234" cy="643.5" rx="6" ry="3" fill="#111"/><ellipse cx="216" cy="643" rx="4" ry="2.5" fill="#1a1a1a"/><rect x="245.5" y="641" width="27" height="12.5" rx="3" fill="url(#g2)"/><rect x="279.5" y="637" width="27" height="22" rx="2" fill="url(#g3)"/><rect x="311.5" y="643.5" width="31" height="9" rx="3.5" fill="url(#g4)"/></g></g>
<rect x="197.50" y="639.80" width="151.60" height="39.50" fill="none" stroke="#2a2a2a" stroke-width="0.85" />
<rect x="197.90" y="657.80" width="150.80" height="21.10" fill="#f9f9f9" />
<line x1="197.50" y1="657.35" x2="349.10" y2="657.35" stroke="#2a2a2a" stroke-width="0.85" />
<g filter="url(#bl2)"><rect x="208.6" y="665.6" width="32.6" height="5.8" rx="2.9" fill="#0c0c0c"/><rect x="242.7" y="665.8" width="30" height="5.4" rx="2.7" fill="#141414"/><rect x="275.4" y="665.6" width="31.5" height="5.8" rx="2.9" fill="#0c0c0c"/><rect x="310.3" y="665.9" width="32" height="5.0" rx="2.5" fill="#171717"/></g>
<rect x="197.50" y="639.80" width="151.60" height="39.50" fill="none" stroke="#2a2a2a" stroke-width="0.85" />
<rect x="0.5" y="0.5" width="519" height="686" fill="none" stroke="#4a4a4a" stroke-width="1"/>
</svg></body></html>
